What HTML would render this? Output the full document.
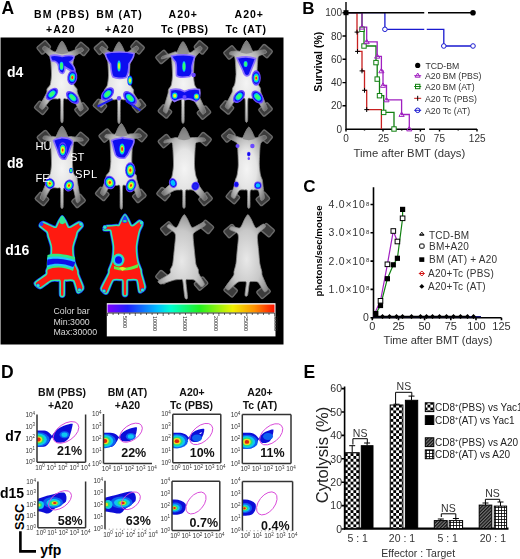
<!DOCTYPE html>
<html><head><meta charset="utf-8">
<style>
html,body{margin:0;padding:0;background:#fff;}
body{width:520px;height:559px;overflow:hidden;}
svg{display:block;font-family:"Liberation Sans",sans-serif;}
.b{font-weight:bold;}
.g{fill:#333;}
</style></head><body>
<svg width="520" height="559" viewBox="0 0 520 559">
<defs>
<pattern id="chk" width="5.7" height="5.7" patternUnits="userSpaceOnUse"><rect width="5.7" height="5.7" fill="#fff"/><rect width="2.85" height="2.85" fill="#000"/><rect x="2.85" y="2.85" width="2.85" height="2.85" fill="#000"/></pattern>
<pattern id="hat" width="2.4" height="2.4" patternUnits="userSpaceOnUse" patternTransform="rotate(45)"><rect width="2.4" height="2.4" fill="#777"/><rect width="1.2" height="2.4" fill="#111"/></pattern>
<pattern id="grd" width="3" height="3" patternUnits="userSpaceOnUse"><rect width="3" height="3" fill="#000"/><rect x="0.8" y="0.8" width="2.2" height="2.2" fill="#fff"/></pattern>
<!--CLIPSD-->
<clipPath id="c1"><rect x="37" y="414.5" width="48.599999999999994" height="47.69999999999999"/></clipPath>
<clipPath id="c2"><rect x="103.5" y="414" width="48.5" height="49.5"/></clipPath>
<clipPath id="c3"><rect x="172.8" y="414.2" width="48.0" height="48.5"/></clipPath>
<clipPath id="c4"><rect x="242.3" y="414.5" width="48.69999999999999" height="49.0"/></clipPath>
<clipPath id="c5"><rect x="37.9" y="481.5" width="47.699999999999996" height="46.200000000000045"/></clipPath>
<clipPath id="c6"><rect x="105" y="480.8" width="48" height="48.400000000000034"/></clipPath>
<clipPath id="c7"><rect x="172" y="481.3" width="47.80000000000001" height="49.30000000000001"/></clipPath>
<clipPath id="c8"><rect x="242.4" y="481.4" width="50.20000000000002" height="49.39999999999998"/></clipPath>
<filter id="soft" x="-5%" y="-5%" width="110%" height="110%"><feGaussianBlur stdDeviation="0.45"/></filter>
<!--/CLIPSD-->
<!--DEFSA-->
<radialGradient id="mbody" cx="50%" cy="52%" r="58%"><stop offset="0" stop-color="#f4f4f4"/><stop offset="0.42" stop-color="#e4e4e4"/><stop offset="0.72" stop-color="#b4b4b4"/><stop offset="1" stop-color="#6a6a6a"/></radialGradient>
<radialGradient id="mgray" cx="50%" cy="55%" r="60%"><stop offset="0" stop-color="#e8e8e8"/><stop offset="0.6" stop-color="#c8c8c8"/><stop offset="1" stop-color="#8a8a8a"/></radialGradient>
<linearGradient id="cbar" x1="0" x2="1" y1="0" y2="0"><stop offset="0" stop-color="#8000ff"/><stop offset="0.12" stop-color="#2020ff"/><stop offset="0.3" stop-color="#00c0ff"/><stop offset="0.38" stop-color="#00ffd0"/><stop offset="0.55" stop-color="#20f020"/><stop offset="0.75" stop-color="#f0f000"/><stop offset="0.88" stop-color="#ff9000"/><stop offset="1" stop-color="#ff1000"/></linearGradient>
<filter id="blur1" x="-10%" y="-10%" width="120%" height="120%"><feGaussianBlur stdDeviation="0.7"/></filter>
<!--/DEFSA-->
</defs>
<rect width="520" height="559" fill="#fff"/>

<!-- ================= PANEL A ================= -->
<g id="A">
<rect x="1" y="37.5" width="282.5" height="307" fill="#000"/>
<rect x="0" y="37.5" width="1" height="307" fill="#888"/>
<!--MICE-->
<g id="mice">
<rect x="38.0" y="43.0" width="11.5" height="9" rx="1.5" transform="rotate(-40 43.7 47.5)" fill="#3c3c3c" stroke="#6a6a6a" stroke-width="1.4"/>
<rect x="76.5" y="44.5" width="11.5" height="9" rx="1.5" transform="rotate(40 82.3 49.0)" fill="#3c3c3c" stroke="#6a6a6a" stroke-width="1.4"/>
<rect x="35.5" y="103.3" width="11.5" height="9" rx="1.5" transform="rotate(40 41.3 107.8)" fill="#3c3c3c" stroke="#6a6a6a" stroke-width="1.4"/>
<rect x="75.8" y="104.9" width="11.5" height="9" rx="1.5" transform="rotate(-40 81.5 109.4)" fill="#3c3c3c" stroke="#6a6a6a" stroke-width="1.4"/>
<path d="M62.0,41.0 C62.7,41.0 64.5,44.3 65.2,45.5 C65.9,46.7 67.4,50.8 68.0,51.5 C68.6,52.2 69.0,51.9 70.5,51.5 C72.0,51.1 79.3,48.2 80.8,47.9 C82.2,47.5 82.6,48.4 82.9,48.8 C83.2,49.2 84.1,50.0 83.1,50.9 C82.1,51.8 75.6,55.3 74.4,56.5 C73.2,57.7 73.4,58.8 73.2,61.0 C73.0,63.2 72.4,72.3 72.5,75.0 C72.6,77.7 73.2,82.9 73.7,84.5 C74.2,86.1 76.6,88.0 77.0,89.0 C77.4,90.0 76.8,90.9 77.5,93.0 C78.2,95.1 82.5,105.4 83.0,107.4 C83.6,109.4 82.5,109.6 82.1,110.0 C81.7,110.4 80.6,111.7 79.5,110.5 C78.5,109.3 74.5,100.8 73.0,99.5 C71.5,98.2 67.6,98.9 66.5,99.0 C65.4,99.1 63.8,97.4 63.4,100.0 C63.0,102.6 63.4,118.5 63.1,121.0 C62.8,123.5 61.2,123.5 60.9,121.0 C60.6,118.5 61.0,102.6 60.6,100.0 C60.2,97.4 58.6,99.1 57.5,99.0 C56.4,98.9 52.7,98.3 51.0,99.5 C49.3,100.7 44.5,107.9 43.3,108.9 C42.1,109.9 41.1,108.8 40.7,108.4 C40.3,108.0 39.1,107.6 39.8,105.8 C40.4,104.0 45.7,95.0 46.5,93.0 C47.3,91.0 46.6,90.0 47.0,89.0 C47.4,88.0 49.8,86.1 50.3,84.5 C50.8,82.9 51.4,77.7 51.5,75.0 C51.6,72.3 51.0,63.2 50.8,61.0 C50.6,58.8 50.5,57.9 49.6,56.5 C48.7,55.1 43.7,50.5 42.9,49.4 C42.2,48.3 42.8,47.7 43.1,47.3 C43.4,46.9 44.0,45.9 45.2,46.4 C46.4,46.9 52.2,50.9 53.5,51.5 C54.8,52.1 55.4,52.2 56.0,51.5 C56.6,50.8 58.1,46.7 58.8,45.5 C59.5,44.3 61.3,41.0 62.0,41.0Z" fill="url(#mbody)" stroke="#8a8a8a" stroke-width="0.8"/>
<path d="M62.0,41.0 C64.0,43.0 67.0,48.0 68.0,53.0 C64.0,54.5 60.0,54.5 56.0,53.0 C57.0,48.0 60.0,43.0 62.0,41.0Z" fill="#6a6a6a" fill-opacity="0.55"/>
<rect x="95.2" y="43.3" width="11.5" height="9" rx="1.5" transform="rotate(-40 101.0 47.8)" fill="#3c3c3c" stroke="#6a6a6a" stroke-width="1.4"/>
<rect x="131.8" y="42.8" width="11.5" height="9" rx="1.5" transform="rotate(40 137.5 47.3)" fill="#3c3c3c" stroke="#6a6a6a" stroke-width="1.4"/>
<rect x="94.2" y="101.3" width="11.5" height="9" rx="1.5" transform="rotate(40 100.0 105.8)" fill="#3c3c3c" stroke="#6a6a6a" stroke-width="1.4"/>
<rect x="133.2" y="101.3" width="11.5" height="9" rx="1.5" transform="rotate(-40 139.0 105.8)" fill="#3c3c3c" stroke="#6a6a6a" stroke-width="1.4"/>
<path d="M119.0,41.8 C119.7,41.8 121.5,45.1 122.2,46.3 C122.9,47.5 124.4,51.6 125.0,52.3 C125.6,53.0 126.2,53.0 127.5,52.3 C128.8,51.6 134.7,46.8 136.0,46.2 C137.2,45.6 137.8,46.7 138.1,47.1 C138.4,47.5 139.0,48.0 138.3,49.2 C137.5,50.4 132.3,55.8 131.4,57.3 C130.5,58.8 130.4,59.6 130.2,61.8 C130.0,64.0 129.4,73.1 129.5,75.8 C129.6,78.5 130.2,83.7 130.7,85.3 C131.2,86.9 133.1,88.8 133.5,89.8 C133.9,90.8 133.2,92.2 134.0,93.8 C134.8,95.4 139.9,102.3 140.5,103.8 C141.2,105.3 140.0,106.0 139.6,106.4 C139.2,106.8 138.2,107.6 137.0,106.9 C135.8,106.2 131.1,101.1 129.5,100.3 C127.9,99.5 124.6,99.7 123.5,99.8 C122.4,99.9 120.8,98.2 120.4,100.8 C120.0,103.4 120.4,119.3 120.1,121.8 C119.8,124.2 118.2,124.2 117.9,121.8 C117.6,119.3 118.0,103.4 117.6,100.8 C117.2,98.2 115.6,99.9 114.5,99.8 C113.4,99.7 110.0,99.5 108.5,100.3 C107.0,101.1 103.0,106.2 102.0,106.9 C100.9,107.6 99.8,106.8 99.4,106.4 C99.0,106.0 97.9,105.3 98.5,103.8 C99.0,102.3 103.3,95.4 104.0,93.8 C104.7,92.2 104.1,90.8 104.5,89.8 C104.9,88.8 106.8,86.9 107.3,85.3 C107.8,83.7 108.4,78.5 108.5,75.8 C108.6,73.1 108.0,64.0 107.8,61.8 C107.6,59.6 107.5,58.7 106.6,57.3 C105.7,55.9 101.0,50.8 100.2,49.7 C99.5,48.6 100.1,48.0 100.4,47.6 C100.7,47.2 101.3,46.1 102.5,46.7 C103.7,47.2 109.3,51.6 110.5,52.3 C111.7,53.0 112.4,53.0 113.0,52.3 C113.6,51.6 115.1,47.5 115.8,46.3 C116.5,45.1 118.3,41.8 119.0,41.8Z" fill="url(#mbody)" stroke="#8a8a8a" stroke-width="0.8"/>
<path d="M119.0,41.8 C121.0,43.8 124.0,48.8 125.0,53.8 C121.0,55.3 117.0,55.3 113.0,53.8 C114.0,48.8 117.0,43.8 119.0,41.8Z" fill="#6a6a6a" fill-opacity="0.55"/>
<rect x="156.8" y="52.5" width="11.5" height="9" rx="1.5" transform="rotate(-40 162.5 57.0)" fill="#3c3c3c" stroke="#6a6a6a" stroke-width="1.4"/>
<rect x="195.2" y="43.0" width="11.5" height="9" rx="1.5" transform="rotate(40 201.0 47.5)" fill="#3c3c3c" stroke="#6a6a6a" stroke-width="1.4"/>
<rect x="159.2" y="107.0" width="11.5" height="9" rx="1.5" transform="rotate(40 165.0 111.5)" fill="#3c3c3c" stroke="#6a6a6a" stroke-width="1.4"/>
<rect x="198.2" y="108.0" width="11.5" height="9" rx="1.5" transform="rotate(-40 204.0 112.5)" fill="#3c3c3c" stroke="#6a6a6a" stroke-width="1.4"/>
<path d="M183.0,41.5 C183.7,41.5 185.5,44.8 186.2,46.0 C186.9,47.2 188.4,51.3 189.0,52.0 C189.6,52.7 190.3,52.7 191.5,52.0 C192.7,51.3 198.3,46.9 199.5,46.4 C200.7,45.8 201.3,46.9 201.6,47.3 C201.9,47.7 202.5,48.3 201.8,49.4 C201.0,50.5 196.3,55.6 195.4,57.0 C194.5,58.4 194.4,59.3 194.2,61.5 C194.0,63.7 193.4,72.8 193.5,75.5 C193.6,78.2 194.2,83.4 194.7,85.0 C195.2,86.6 197.1,88.5 197.5,89.5 C197.9,90.5 197.1,91.0 198.0,93.5 C198.9,96.0 204.8,108.2 205.5,110.5 C206.3,112.8 205.0,112.7 204.6,113.1 C204.2,113.5 203.3,115.1 202.0,113.6 C200.7,112.1 195.2,101.6 193.5,100.0 C191.8,98.4 188.6,99.4 187.5,99.5 C186.4,99.6 184.8,97.9 184.4,100.5 C184.0,103.1 184.4,119.0 184.1,121.5 C183.8,124.0 182.2,124.0 181.9,121.5 C181.6,119.0 182.0,103.1 181.6,100.5 C181.2,97.9 179.6,99.6 178.5,99.5 C177.4,99.4 173.8,98.5 172.5,100.0 C171.2,101.5 167.9,111.2 167.0,112.6 C166.0,114.0 164.8,112.5 164.4,112.1 C164.0,111.7 163.0,111.7 163.5,109.5 C163.9,107.3 167.4,95.8 168.0,93.5 C168.6,91.2 168.1,90.5 168.5,89.5 C168.9,88.5 170.8,86.6 171.3,85.0 C171.8,83.4 172.4,78.2 172.5,75.5 C172.6,72.8 172.0,63.7 171.8,61.5 C171.6,59.3 171.8,57.3 170.6,57.0 C169.4,56.7 162.8,58.9 161.7,58.9 C160.7,58.9 161.6,57.2 161.9,56.8 C162.2,56.4 162.6,56.4 164.0,55.9 C165.5,55.3 173.0,52.5 174.5,52.0 C176.0,51.5 176.4,52.7 177.0,52.0 C177.6,51.3 179.1,47.2 179.8,46.0 C180.5,44.8 182.3,41.5 183.0,41.5Z" fill="url(#mbody)" stroke="#8a8a8a" stroke-width="0.8"/>
<path d="M183.0,41.5 C185.0,43.5 188.0,48.5 189.0,53.5 C185.0,55.0 181.0,55.0 177.0,53.5 C178.0,48.5 181.0,43.5 183.0,41.5Z" fill="#6a6a6a" fill-opacity="0.55"/>
<rect x="224.8" y="48.0" width="11.5" height="9" rx="1.5" transform="rotate(-40 230.5 52.5)" fill="#3c3c3c" stroke="#6a6a6a" stroke-width="1.4"/>
<rect x="259.8" y="46.5" width="11.5" height="9" rx="1.5" transform="rotate(40 265.5 51.0)" fill="#3c3c3c" stroke="#6a6a6a" stroke-width="1.4"/>
<rect x="221.2" y="103.0" width="11.5" height="9" rx="1.5" transform="rotate(40 227.0 107.5)" fill="#3c3c3c" stroke="#6a6a6a" stroke-width="1.4"/>
<rect x="259.8" y="105.0" width="11.5" height="9" rx="1.5" transform="rotate(-40 265.5 109.5)" fill="#3c3c3c" stroke="#6a6a6a" stroke-width="1.4"/>
<path d="M246.5,40.5 C247.2,40.5 249.0,43.8 249.7,45.0 C250.4,46.2 251.9,50.3 252.5,51.0 C253.1,51.7 253.7,51.1 255.0,51.0 C256.3,50.9 262.7,49.9 264.0,49.9 C265.3,49.8 265.8,50.4 266.1,50.8 C266.4,51.2 267.1,52.3 266.3,52.9 C265.4,53.5 259.9,55.1 258.9,56.0 C257.9,56.9 257.9,58.3 257.7,60.5 C257.5,62.7 256.9,71.8 257.0,74.5 C257.1,77.2 257.8,82.4 258.2,84.0 C258.6,85.6 260.2,87.5 260.5,88.5 C260.8,89.5 260.2,90.3 261.0,92.5 C261.8,94.7 266.4,105.5 267.0,107.5 C267.6,109.6 266.5,109.7 266.1,110.1 C265.7,110.5 264.6,111.9 263.5,110.6 C262.4,109.3 258.0,100.4 256.5,99.0 C255.0,97.6 252.0,98.4 251.0,98.5 C250.0,98.6 248.3,96.9 247.9,99.5 C247.5,102.1 247.9,118.0 247.6,120.5 C247.3,123.0 245.7,123.0 245.4,120.5 C245.1,118.0 245.5,102.1 245.1,99.5 C244.7,96.9 243.0,98.6 242.0,98.5 C241.0,98.4 238.0,97.8 236.5,99.0 C235.0,100.2 230.2,107.5 229.0,108.6 C227.8,109.7 226.8,108.5 226.4,108.1 C226.0,107.7 224.8,107.3 225.5,105.5 C226.1,103.7 231.2,94.5 232.0,92.5 C232.8,90.5 232.2,89.5 232.5,88.5 C232.8,87.5 234.4,85.6 234.8,84.0 C235.2,82.4 235.9,77.2 236.0,74.5 C236.1,71.8 235.5,62.7 235.3,60.5 C235.1,58.3 234.7,56.7 234.1,56.0 C233.5,55.3 230.2,54.8 229.7,54.4 C229.2,54.0 229.6,52.7 229.9,52.3 C230.2,51.9 231.1,51.5 232.0,51.4 C233.0,51.2 237.0,51.0 238.0,51.0 C239.0,51.0 239.9,51.7 240.5,51.0 C241.1,50.3 242.6,46.2 243.3,45.0 C244.0,43.8 245.8,40.5 246.5,40.5Z" fill="url(#mbody)" stroke="#8a8a8a" stroke-width="0.8"/>
<path d="M246.5,40.5 C248.5,42.5 251.5,47.5 252.5,52.5 C248.5,54.0 244.5,54.0 240.5,52.5 C241.5,47.5 244.5,42.5 246.5,40.5Z" fill="#6a6a6a" fill-opacity="0.55"/>
<rect x="38.2" y="132.5" width="11.5" height="9" rx="1.5" transform="rotate(-40 44.0 137.0)" fill="#3c3c3c" stroke="#6a6a6a" stroke-width="1.4"/>
<rect x="76.2" y="134.5" width="11.5" height="9" rx="1.5" transform="rotate(40 82.0 139.0)" fill="#3c3c3c" stroke="#6a6a6a" stroke-width="1.4"/>
<rect x="36.2" y="194.5" width="11.5" height="9" rx="1.5" transform="rotate(40 42.0 199.0)" fill="#3c3c3c" stroke="#6a6a6a" stroke-width="1.4"/>
<rect x="72.8" y="196.5" width="11.5" height="9" rx="1.5" transform="rotate(-40 78.5 201.0)" fill="#3c3c3c" stroke="#6a6a6a" stroke-width="1.4"/>
<path d="M62.0,126.0 C62.7,126.0 64.5,129.3 65.2,130.5 C65.9,131.7 67.4,135.8 68.0,136.5 C68.6,137.2 69.0,136.3 70.5,136.5 C72.0,136.7 79.1,137.6 80.5,137.9 C81.9,138.1 82.3,138.4 82.6,138.8 C82.9,139.2 83.7,140.6 82.8,140.9 C81.8,141.2 75.5,140.9 74.4,141.5 C73.3,142.1 73.4,143.4 73.2,146.0 C73.0,148.6 72.4,160.8 72.5,164.0 C72.6,167.2 73.2,171.9 73.7,173.5 C74.2,175.1 76.6,177.0 77.0,178.0 C77.4,179.0 77.1,179.5 77.5,182.0 C77.9,184.5 79.9,196.7 80.0,199.0 C80.2,201.3 79.5,201.2 79.1,201.6 C78.7,202.0 77.2,203.6 76.5,202.1 C75.8,200.6 74.2,190.1 73.0,188.5 C71.8,186.9 67.6,187.9 66.5,188.0 C65.4,188.1 63.8,186.8 63.4,189.0 C63.0,191.2 63.4,204.9 63.1,207.0 C62.8,209.1 61.2,209.1 60.9,207.0 C60.6,204.9 61.0,191.2 60.6,189.0 C60.2,186.8 58.6,188.1 57.5,188.0 C56.4,187.9 52.6,187.1 51.0,188.5 C49.4,189.9 45.1,198.8 44.0,200.1 C42.9,201.4 41.8,200.0 41.4,199.6 C41.0,199.2 39.9,199.1 40.5,197.0 C41.1,195.0 45.7,184.2 46.5,182.0 C47.3,179.8 46.6,179.0 47.0,178.0 C47.4,177.0 49.8,175.1 50.3,173.5 C50.8,171.9 51.4,167.2 51.5,164.0 C51.6,160.8 51.0,148.6 50.8,146.0 C50.6,143.4 50.5,142.3 49.6,141.5 C48.7,140.7 44.0,139.4 43.2,138.9 C42.5,138.4 43.1,137.2 43.4,136.8 C43.7,136.4 44.3,135.9 45.5,135.9 C46.7,135.8 52.3,136.4 53.5,136.5 C54.7,136.6 55.4,137.2 56.0,136.5 C56.6,135.8 58.1,131.7 58.8,130.5 C59.5,129.3 61.3,126.0 62.0,126.0Z" fill="url(#mbody)" stroke="#8a8a8a" stroke-width="0.8"/>
<path d="M62.0,126.0 C64.0,128.0 67.0,133.0 68.0,138.0 C64.0,139.5 60.0,139.5 56.0,138.0 C57.0,133.0 60.0,128.0 62.0,126.0Z" fill="#6a6a6a" fill-opacity="0.55"/>
<rect x="100.0" y="131.0" width="11.5" height="9" rx="1.5" transform="rotate(-40 105.8 135.5)" fill="#3c3c3c" stroke="#6a6a6a" stroke-width="1.4"/>
<rect x="134.6" y="130.5" width="11.5" height="9" rx="1.5" transform="rotate(40 140.3 135.0)" fill="#3c3c3c" stroke="#6a6a6a" stroke-width="1.4"/>
<rect x="96.5" y="189.5" width="11.5" height="9" rx="1.5" transform="rotate(40 102.3 194.0)" fill="#3c3c3c" stroke="#6a6a6a" stroke-width="1.4"/>
<rect x="133.6" y="191.5" width="11.5" height="9" rx="1.5" transform="rotate(-40 139.3 196.0)" fill="#3c3c3c" stroke="#6a6a6a" stroke-width="1.4"/>
<path d="M121.3,123.5 C122.0,123.5 123.8,126.8 124.5,128.0 C125.2,129.2 126.7,133.3 127.3,134.0 C127.9,134.7 128.5,134.0 129.8,134.0 C131.1,134.0 137.5,133.8 138.8,133.9 C140.1,134.0 140.6,134.4 140.9,134.8 C141.2,135.2 141.9,136.4 141.1,136.9 C140.2,137.4 134.7,138.2 133.7,139.0 C132.7,139.8 132.7,140.9 132.5,143.5 C132.3,146.1 131.7,158.3 131.8,161.5 C131.9,164.7 132.5,169.4 133.0,171.0 C133.5,172.6 135.9,174.5 136.3,175.5 C136.7,176.5 136.3,177.3 136.8,179.5 C137.3,181.7 140.5,192.0 140.8,194.0 C141.2,196.0 140.3,196.2 139.9,196.6 C139.5,197.0 138.2,198.3 137.3,197.1 C136.4,195.9 133.6,187.4 132.3,186.0 C131.0,184.6 126.9,185.4 125.8,185.5 C124.7,185.6 123.1,183.9 122.7,186.5 C122.3,189.1 122.7,205.1 122.4,207.5 C122.1,209.9 120.5,209.9 120.2,207.5 C119.9,205.1 120.3,189.1 119.9,186.5 C119.5,183.9 117.9,185.6 116.8,185.5 C115.7,185.4 111.8,184.9 110.3,186.0 C108.8,187.1 105.3,194.1 104.3,195.1 C103.3,196.1 102.1,195.0 101.7,194.6 C101.3,194.2 100.3,193.8 100.8,192.0 C101.2,190.3 105.2,181.4 105.8,179.5 C106.4,177.6 105.9,176.5 106.3,175.5 C106.7,174.5 109.1,172.6 109.6,171.0 C110.1,169.4 110.7,164.7 110.8,161.5 C110.9,158.3 110.3,146.1 110.1,143.5 C109.9,140.9 109.5,139.7 108.9,139.0 C108.3,138.3 105.5,137.8 105.0,137.4 C104.6,137.0 104.9,135.7 105.2,135.3 C105.5,134.9 106.4,134.5 107.3,134.4 C108.2,134.2 111.9,134.0 112.8,134.0 C113.7,134.0 114.7,134.7 115.3,134.0 C115.9,133.3 117.4,129.2 118.1,128.0 C118.8,126.8 120.6,123.5 121.3,123.5Z" fill="url(#mbody)" stroke="#8a8a8a" stroke-width="0.8"/>
<path d="M121.3,123.5 C123.3,125.5 126.3,130.5 127.3,135.5 C123.3,137.0 119.3,137.0 115.3,135.5 C116.3,130.5 119.3,125.5 121.3,123.5Z" fill="#6a6a6a" fill-opacity="0.55"/>
<rect x="159.2" y="136.5" width="11.5" height="9" rx="1.5" transform="rotate(-40 165.0 141.0)" fill="#3c3c3c" stroke="#6a6a6a" stroke-width="1.4"/>
<rect x="198.8" y="134.5" width="11.5" height="9" rx="1.5" transform="rotate(40 204.5 139.0)" fill="#3c3c3c" stroke="#6a6a6a" stroke-width="1.4"/>
<rect x="157.8" y="189.5" width="11.5" height="9" rx="1.5" transform="rotate(40 163.5 194.0)" fill="#3c3c3c" stroke="#6a6a6a" stroke-width="1.4"/>
<rect x="199.8" y="194.5" width="11.5" height="9" rx="1.5" transform="rotate(-40 205.5 199.0)" fill="#3c3c3c" stroke="#6a6a6a" stroke-width="1.4"/>
<path d="M184.0,127.0 C184.7,127.0 186.5,130.3 187.2,131.5 C187.9,132.7 189.4,136.8 190.0,137.5 C190.6,138.2 191.0,137.5 192.5,137.5 C194.0,137.5 201.5,137.7 203.0,137.9 C204.4,138.0 204.8,138.4 205.1,138.8 C205.4,139.2 206.3,140.5 205.3,140.9 C204.2,141.3 197.6,141.8 196.4,142.5 C195.2,143.2 195.4,144.4 195.2,147.0 C195.0,149.6 194.4,161.7 194.5,165.0 C194.6,168.3 195.3,173.2 195.7,175.0 C196.0,176.8 197.2,178.9 197.5,180.0 C197.8,181.1 196.9,182.0 198.0,184.0 C199.1,186.0 206.1,195.2 207.0,197.0 C208.0,198.8 206.5,199.2 206.1,199.6 C205.7,200.0 205.0,201.2 203.5,200.1 C202.1,199.0 195.3,191.7 193.5,190.5 C191.7,189.3 189.4,189.9 188.5,190.0 C187.6,190.1 185.8,189.0 185.4,191.0 C185.0,193.0 185.4,205.1 185.1,207.0 C184.8,208.9 183.2,208.9 182.9,207.0 C182.6,205.1 183.0,193.0 182.6,191.0 C182.2,189.0 180.4,190.1 179.5,190.0 C178.6,189.9 176.1,189.9 174.5,190.5 C172.9,191.1 166.8,194.6 165.5,195.1 C164.1,195.6 163.3,195.0 162.9,194.6 C162.5,194.2 161.1,193.3 162.0,192.0 C162.8,190.8 169.0,185.4 170.0,184.0 C171.0,182.6 170.2,181.1 170.5,180.0 C170.8,178.9 172.0,176.8 172.3,175.0 C172.7,173.2 173.4,168.3 173.5,165.0 C173.6,161.7 173.0,149.6 172.8,147.0 C172.6,144.4 172.6,143.0 171.6,142.5 C170.6,142.0 165.1,143.1 164.2,142.9 C163.4,142.7 164.1,141.2 164.4,140.8 C164.7,140.4 165.2,140.2 166.5,139.9 C167.8,139.5 174.2,137.8 175.5,137.5 C176.8,137.2 177.4,138.2 178.0,137.5 C178.6,136.8 180.1,132.7 180.8,131.5 C181.5,130.3 183.3,127.0 184.0,127.0Z" fill="url(#mbody)" stroke="#8a8a8a" stroke-width="0.8"/>
<path d="M184.0,127.0 C186.0,129.0 189.0,134.0 190.0,139.0 C186.0,140.5 182.0,140.5 178.0,139.0 C179.0,134.0 182.0,129.0 184.0,127.0Z" fill="#6a6a6a" fill-opacity="0.55"/>
<rect x="222.6" y="131.0" width="11.5" height="9" rx="1.5" transform="rotate(-40 228.3 135.5)" fill="#3c3c3c" stroke="#6a6a6a" stroke-width="1.4"/>
<rect x="259.9" y="132.1" width="11.5" height="9" rx="1.5" transform="rotate(40 265.6 136.6)" fill="#3c3c3c" stroke="#6a6a6a" stroke-width="1.4"/>
<rect x="227.1" y="192.5" width="11.5" height="9" rx="1.5" transform="rotate(40 232.8 197.0)" fill="#3c3c3c" stroke="#6a6a6a" stroke-width="1.4"/>
<rect x="257.1" y="194.5" width="11.5" height="9" rx="1.5" transform="rotate(-40 262.8 199.0)" fill="#3c3c3c" stroke="#6a6a6a" stroke-width="1.4"/>
<path d="M248.8,127.0 C249.5,127.0 251.3,130.3 252.0,131.5 C252.7,132.7 254.2,136.8 254.8,137.5 C255.4,138.2 256.2,137.7 257.3,137.5 C258.4,137.3 263.0,135.6 264.1,135.5 C265.1,135.3 265.9,136.0 266.2,136.4 C266.5,136.8 266.9,137.8 266.4,138.5 C265.8,139.2 261.9,141.5 261.2,142.5 C260.5,143.5 260.2,144.4 260.0,147.0 C259.8,149.6 259.2,161.7 259.3,165.0 C259.4,168.3 260.1,173.2 260.5,175.0 C260.9,176.8 262.0,178.9 262.3,180.0 C262.6,181.1 262.6,182.0 262.8,184.0 C263.0,186.0 264.3,195.2 264.3,197.0 C264.4,198.8 263.8,199.2 263.4,199.6 C263.0,200.0 261.4,201.2 260.8,200.1 C260.2,199.0 259.2,191.7 258.3,190.5 C257.4,189.3 254.2,189.9 253.3,190.0 C252.4,190.1 250.6,189.0 250.2,191.0 C249.8,193.0 250.2,205.1 249.9,207.0 C249.6,208.9 248.0,208.9 247.7,207.0 C247.4,205.1 247.8,193.0 247.4,191.0 C247.0,189.0 245.2,190.1 244.3,190.0 C243.4,189.9 240.4,189.6 239.3,190.5 C238.2,191.4 235.6,197.3 234.8,198.1 C234.0,198.9 232.6,198.0 232.2,197.6 C231.8,197.2 231.0,196.6 231.3,195.0 C231.6,193.4 234.3,185.8 234.8,184.0 C235.3,182.2 235.0,181.1 235.3,180.0 C235.6,178.9 236.8,176.8 237.1,175.0 C237.5,173.2 238.2,168.3 238.3,165.0 C238.4,161.7 237.8,149.6 237.6,147.0 C237.4,144.4 237.6,143.6 236.4,142.5 C235.2,141.4 228.6,138.2 227.5,137.4 C226.5,136.6 227.4,135.7 227.7,135.3 C228.0,134.9 228.4,134.1 229.8,134.4 C231.3,134.6 238.8,137.1 240.3,137.5 C241.8,137.9 242.2,138.2 242.8,137.5 C243.4,136.8 244.9,132.7 245.6,131.5 C246.3,130.3 248.1,127.0 248.8,127.0Z" fill="url(#mbody)" stroke="#8a8a8a" stroke-width="0.8"/>
<path d="M248.8,127.0 C250.8,129.0 253.8,134.0 254.8,139.0 C250.8,140.5 246.8,140.5 242.8,139.0 C243.8,134.0 246.8,129.0 248.8,127.0Z" fill="#6a6a6a" fill-opacity="0.55"/>
<rect x="161.6" y="224.0" width="11.5" height="9" rx="1.5" transform="rotate(-40 167.3 228.5)" fill="#3c3c3c" stroke="#6a6a6a" stroke-width="1.4"/>
<rect x="201.1" y="222.4" width="11.5" height="9" rx="1.5" transform="rotate(40 206.8 226.9)" fill="#3c3c3c" stroke="#6a6a6a" stroke-width="1.4"/>
<rect x="156.7" y="272.5" width="11.5" height="9" rx="1.5" transform="rotate(40 162.4 277.0)" fill="#3c3c3c" stroke="#6a6a6a" stroke-width="1.4"/>
<rect x="195.3" y="279.1" width="11.5" height="9" rx="1.5" transform="rotate(-40 201.0 283.6)" fill="#3c3c3c" stroke="#6a6a6a" stroke-width="1.4"/>
<path d="M184.3,214.6 C185.0,214.6 186.8,217.9 187.5,219.1 C188.2,220.3 189.7,224.1 190.3,225.1 C190.9,226.1 191.3,227.9 192.8,227.6 C194.3,227.3 201.4,223.0 202.8,222.5 C204.2,222.0 204.6,223.0 204.9,223.4 C205.2,223.8 206.3,224.4 205.1,225.5 C203.8,226.6 195.7,231.2 194.3,232.6 C192.9,234.0 193.0,234.5 193.1,237.1 C193.2,239.7 194.5,251.4 194.8,254.6 C195.1,257.8 195.6,262.9 196.0,264.6 C196.4,266.4 198.0,268.6 198.3,269.6 C198.6,270.7 198.1,272.0 198.8,273.6 C199.5,275.2 203.7,281.9 204.2,283.3 C204.8,284.8 203.7,285.5 203.3,285.9 C202.9,286.3 201.8,287.1 200.7,286.4 C199.7,285.7 195.7,280.9 194.3,280.1 C192.9,279.3 189.8,279.5 188.8,279.6 C187.8,279.7 186.1,278.5 185.9,280.6 C185.7,282.7 187.6,295.6 187.5,297.6 C187.4,299.6 185.5,299.6 184.9,297.6 C184.3,295.6 183.3,282.7 182.7,280.6 C182.1,278.5 180.8,279.7 179.8,279.6 C178.8,279.5 176.4,279.6 174.3,280.1 C172.2,280.6 163.7,283.5 162.0,283.9 C160.2,284.3 159.8,283.8 159.4,283.4 C159.0,283.0 157.2,282.0 158.5,280.8 C159.7,279.7 168.4,274.9 169.8,273.6 C171.2,272.3 170.0,270.7 170.3,269.6 C170.6,268.6 172.2,266.4 172.6,264.6 C173.0,262.9 173.5,257.8 173.8,254.6 C174.1,251.4 175.4,239.7 175.5,237.1 C175.6,234.5 175.2,233.8 174.3,232.6 C173.4,231.4 168.2,228.1 167.4,227.2 C166.7,226.3 167.3,225.5 167.6,225.1 C167.9,224.7 168.8,223.9 169.7,224.2 C170.7,224.5 174.8,227.5 175.8,227.6 C176.8,227.7 177.7,226.1 178.3,225.1 C178.9,224.1 180.4,220.3 181.1,219.1 C181.8,217.9 183.6,214.6 184.3,214.6Z" fill="url(#mgray)" stroke="#8a8a8a" stroke-width="0.8"/>
<rect x="224.8" y="226.5" width="11.5" height="9" rx="1.5" transform="rotate(-40 230.6 231.0)" fill="#3c3c3c" stroke="#6a6a6a" stroke-width="1.4"/>
<rect x="261.9" y="225.7" width="11.5" height="9" rx="1.5" transform="rotate(40 267.7 230.2)" fill="#3c3c3c" stroke="#6a6a6a" stroke-width="1.4"/>
<rect x="224.9" y="285.8" width="11.5" height="9" rx="1.5" transform="rotate(40 230.6 290.3)" fill="#3c3c3c" stroke="#6a6a6a" stroke-width="1.4"/>
<rect x="257.8" y="287.4" width="11.5" height="9" rx="1.5" transform="rotate(-40 263.5 291.9)" fill="#3c3c3c" stroke="#6a6a6a" stroke-width="1.4"/>
<path d="M247.9,214.6 C248.6,214.6 250.4,217.9 251.1,219.1 C251.8,220.3 253.3,224.0 253.9,225.1 C254.5,226.2 255.4,228.2 256.4,228.1 C257.4,228.0 261.9,224.5 262.9,224.2 C263.9,223.8 264.7,224.7 265.0,225.1 C265.3,225.5 265.9,226.3 265.2,227.2 C264.4,228.1 259.5,231.9 258.6,233.1 C257.7,234.3 257.4,235.6 257.4,237.6 C257.4,239.6 258.3,247.6 258.6,250.6 C258.9,253.6 259.4,261.2 259.8,263.6 C260.2,266.1 261.5,270.2 261.8,271.6 C262.1,273.0 261.6,273.6 262.3,275.6 C263.0,277.6 267.0,286.5 267.5,288.3 C268.0,290.1 267.0,290.5 266.6,290.9 C266.2,291.3 265.0,292.4 264.0,291.4 C263.0,290.4 259.2,283.2 257.8,282.1 C256.4,281.0 253.4,281.5 252.4,281.6 C251.4,281.7 250.1,281.0 249.5,282.6 C248.9,284.2 248.1,293.7 247.6,295.2 C247.1,296.7 245.2,296.7 245.0,295.2 C244.8,293.7 246.5,284.2 246.3,282.6 C246.1,281.0 244.4,281.7 243.4,281.6 C242.4,281.5 239.6,281.2 238.0,282.1 C236.4,283.0 230.6,288.9 229.3,289.7 C228.0,290.5 227.1,289.6 226.7,289.2 C226.3,288.8 225.0,288.2 225.8,286.6 C226.6,285.0 232.5,277.4 233.5,275.6 C234.5,273.8 233.7,273.0 234.0,271.6 C234.3,270.2 235.6,266.1 236.0,263.6 C236.4,261.2 236.9,253.6 237.2,250.6 C237.5,247.6 238.4,239.6 238.4,237.6 C238.4,235.6 238.2,234.0 237.2,233.1 C236.2,232.2 230.7,230.3 229.8,229.6 C229.0,228.9 229.7,227.9 230.0,227.5 C230.3,227.1 231.0,226.5 232.1,226.6 C233.2,226.6 238.3,228.3 239.4,228.1 C240.5,227.9 241.3,226.2 241.9,225.1 C242.5,224.0 244.0,220.3 244.7,219.1 C245.4,217.9 247.2,214.6 247.9,214.6Z" fill="url(#mgray)" stroke="#8a8a8a" stroke-width="0.8"/>
<path d="M62.2,216.4 C62.9,216.4 64.7,219.7 65.4,220.9 C66.1,222.1 67.6,226.2 68.2,226.9 C68.8,227.6 69.4,227.4 70.7,226.9 C72.0,226.4 77.8,222.7 79.1,222.3 C80.4,222.0 81.4,223.2 81.8,223.7 C82.2,224.2 82.8,225.5 82.2,226.5 C81.7,227.5 78.1,230.7 77.4,231.9 C76.7,233.1 76.7,234.6 76.2,236.4 C75.7,238.2 73.2,244.5 73.0,247.4 C72.8,250.3 73.7,258.7 74.2,261.4 C74.7,264.1 77.2,268.9 77.7,270.4 C78.2,271.9 77.6,272.4 78.2,274.4 C78.8,276.4 82.9,285.2 83.2,287.2 C83.6,289.1 82.0,290.4 81.3,291.0 C80.6,291.6 78.3,293.4 77.5,292.2 C76.6,291.0 75.0,282.3 73.7,280.9 C72.4,279.5 67.8,280.3 66.7,280.4 C65.6,280.5 64.6,279.6 64.3,281.4 C64.0,283.1 64.5,293.8 64.0,295.4 C63.5,297.0 60.9,297.0 60.4,295.4 C59.9,293.8 60.4,283.1 60.1,281.4 C59.8,279.6 58.8,280.5 57.7,280.4 C56.6,280.3 52.7,280.0 50.7,280.9 C48.7,281.8 42.5,287.0 40.9,287.7 C39.4,288.4 37.8,287.1 37.1,286.5 C36.4,285.9 34.1,284.1 35.2,282.7 C36.2,281.2 44.9,275.8 46.2,274.4 C47.5,273.0 46.2,271.9 46.7,270.4 C47.2,268.9 49.7,264.1 50.2,261.4 C50.7,258.7 51.6,250.3 51.4,247.4 C51.2,244.5 48.7,238.2 48.2,236.4 C47.7,234.6 47.9,233.1 47.0,231.9 C46.1,230.7 40.9,227.5 40.2,226.5 C39.4,225.5 40.2,224.2 40.6,223.7 C41.0,223.2 41.8,222.0 43.3,222.3 C44.8,222.7 52.2,226.4 53.7,226.9 C55.2,227.4 55.6,227.6 56.2,226.9 C56.8,226.2 58.3,222.1 59.0,220.9 C59.7,219.7 61.5,216.4 62.2,216.4Z" fill="#ff1a10" stroke="#1030f0" stroke-width="3"/>
<path d="M62.2,216.4 C62.9,216.4 64.7,219.7 65.4,220.9 C66.1,222.1 67.6,226.2 68.2,226.9 C68.8,227.6 69.4,227.4 70.7,226.9 C72.0,226.4 77.8,222.7 79.1,222.3 C80.4,222.0 81.4,223.2 81.8,223.7 C82.2,224.2 82.8,225.5 82.2,226.5 C81.7,227.5 78.1,230.7 77.4,231.9 C76.7,233.1 76.7,234.6 76.2,236.4 C75.7,238.2 73.2,244.5 73.0,247.4 C72.8,250.3 73.7,258.7 74.2,261.4 C74.7,264.1 77.2,268.9 77.7,270.4 C78.2,271.9 77.6,272.4 78.2,274.4 C78.8,276.4 82.9,285.2 83.2,287.2 C83.6,289.1 82.0,290.4 81.3,291.0 C80.6,291.6 78.3,293.4 77.5,292.2 C76.6,291.0 75.0,282.3 73.7,280.9 C72.4,279.5 67.8,280.3 66.7,280.4 C65.6,280.5 64.6,279.6 64.3,281.4 C64.0,283.1 64.5,293.8 64.0,295.4 C63.5,297.0 60.9,297.0 60.4,295.4 C59.9,293.8 60.4,283.1 60.1,281.4 C59.8,279.6 58.8,280.5 57.7,280.4 C56.6,280.3 52.7,280.0 50.7,280.9 C48.7,281.8 42.5,287.0 40.9,287.7 C39.4,288.4 37.8,287.1 37.1,286.5 C36.4,285.9 34.1,284.1 35.2,282.7 C36.2,281.2 44.9,275.8 46.2,274.4 C47.5,273.0 46.2,271.9 46.7,270.4 C47.2,268.9 49.7,264.1 50.2,261.4 C50.7,258.7 51.6,250.3 51.4,247.4 C51.2,244.5 48.7,238.2 48.2,236.4 C47.7,234.6 47.9,233.1 47.0,231.9 C46.1,230.7 40.9,227.5 40.2,226.5 C39.4,225.5 40.2,224.2 40.6,223.7 C41.0,223.2 41.8,222.0 43.3,222.3 C44.8,222.7 52.2,226.4 53.7,226.9 C55.2,227.4 55.6,227.6 56.2,226.9 C56.8,226.2 58.3,222.1 59.0,220.9 C59.7,219.7 61.5,216.4 62.2,216.4Z" fill="#ff1a10" stroke="#30e8b0" stroke-width="1.6"/>
<path d="M125.0,214.8 C125.7,214.8 127.5,218.1 128.2,219.3 C128.9,220.5 130.4,224.6 131.0,225.3 C131.6,226.0 132.6,225.8 133.5,225.3 C134.4,224.8 138.2,221.3 139.1,220.9 C140.1,220.6 141.4,221.8 141.8,222.3 C142.2,222.8 142.5,224.2 142.2,225.1 C142.0,226.0 140.1,229.2 139.7,230.3 C139.3,231.4 138.9,232.9 138.5,234.8 C138.1,236.7 136.6,243.8 136.5,246.8 C136.4,249.8 137.2,258.1 137.7,260.8 C138.2,263.5 140.6,268.3 141.0,269.8 C141.4,271.3 141.0,271.8 141.5,273.8 C142.0,275.8 144.8,284.8 145.0,286.8 C145.2,288.7 143.8,290.0 143.1,290.6 C142.4,291.2 140.0,293.0 139.3,291.8 C138.5,290.6 138.1,281.7 137.0,280.3 C135.9,278.9 130.7,279.7 129.5,279.8 C128.3,279.9 127.4,279.1 127.1,280.8 C126.8,282.6 127.3,293.2 126.8,294.8 C126.3,296.4 123.7,296.4 123.2,294.8 C122.7,293.2 123.2,282.6 122.9,280.8 C122.6,279.1 121.7,279.9 120.5,279.8 C119.3,279.7 114.6,278.7 113.0,280.3 C111.4,281.9 108.2,291.7 107.0,293.1 C105.9,294.5 103.9,292.5 103.2,291.9 C102.5,291.3 100.7,290.2 101.3,288.1 C101.9,285.9 107.6,275.9 108.5,273.8 C109.4,271.7 108.6,271.3 109.0,269.8 C109.4,268.3 111.8,263.5 112.3,260.8 C112.8,258.1 113.6,249.8 113.5,246.8 C113.4,243.8 111.9,236.7 111.5,234.8 C111.1,232.9 111.2,230.8 110.3,230.3 C109.4,229.8 104.6,230.5 104.0,230.1 C103.3,229.8 104.0,227.8 104.4,227.3 C104.8,226.8 105.7,226.2 107.1,225.9 C108.5,225.7 115.1,225.4 116.5,225.3 C117.9,225.2 118.4,226.0 119.0,225.3 C119.6,224.6 121.1,220.5 121.8,219.3 C122.5,218.1 124.3,214.8 125.0,214.8Z" fill="#ff1a10" stroke="#1030f0" stroke-width="3"/>
<path d="M125.0,214.8 C125.7,214.8 127.5,218.1 128.2,219.3 C128.9,220.5 130.4,224.6 131.0,225.3 C131.6,226.0 132.6,225.8 133.5,225.3 C134.4,224.8 138.2,221.3 139.1,220.9 C140.1,220.6 141.4,221.8 141.8,222.3 C142.2,222.8 142.5,224.2 142.2,225.1 C142.0,226.0 140.1,229.2 139.7,230.3 C139.3,231.4 138.9,232.9 138.5,234.8 C138.1,236.7 136.6,243.8 136.5,246.8 C136.4,249.8 137.2,258.1 137.7,260.8 C138.2,263.5 140.6,268.3 141.0,269.8 C141.4,271.3 141.0,271.8 141.5,273.8 C142.0,275.8 144.8,284.8 145.0,286.8 C145.2,288.7 143.8,290.0 143.1,290.6 C142.4,291.2 140.0,293.0 139.3,291.8 C138.5,290.6 138.1,281.7 137.0,280.3 C135.9,278.9 130.7,279.7 129.5,279.8 C128.3,279.9 127.4,279.1 127.1,280.8 C126.8,282.6 127.3,293.2 126.8,294.8 C126.3,296.4 123.7,296.4 123.2,294.8 C122.7,293.2 123.2,282.6 122.9,280.8 C122.6,279.1 121.7,279.9 120.5,279.8 C119.3,279.7 114.6,278.7 113.0,280.3 C111.4,281.9 108.2,291.7 107.0,293.1 C105.9,294.5 103.9,292.5 103.2,291.9 C102.5,291.3 100.7,290.2 101.3,288.1 C101.9,285.9 107.6,275.9 108.5,273.8 C109.4,271.7 108.6,271.3 109.0,269.8 C109.4,268.3 111.8,263.5 112.3,260.8 C112.8,258.1 113.6,249.8 113.5,246.8 C113.4,243.8 111.9,236.7 111.5,234.8 C111.1,232.9 111.2,230.8 110.3,230.3 C109.4,229.8 104.6,230.5 104.0,230.1 C103.3,229.8 104.0,227.8 104.4,227.3 C104.8,226.8 105.7,226.2 107.1,225.9 C108.5,225.7 115.1,225.4 116.5,225.3 C117.9,225.2 118.4,226.0 119.0,225.3 C119.6,224.6 121.1,220.5 121.8,219.3 C122.5,218.1 124.3,214.8 125.0,214.8Z" fill="#ff1a10" stroke="#30e8b0" stroke-width="1.6"/>
</g>
<g filter="url(#blur1)">
<path d="M50.5,56 C54,54 58,55.5 62,56.5 C66,55.5 70,54.5 74,56.5 C74,59 72,61 70,62 C72,64 75,67 75,71 C72,72.5 68,69 65,67 C65,70 64.5,73 62.5,73.5 C60,73 58.5,70 58.5,66 C58,63 56,61 52,61 C50.5,59.5 50,58 50.5,56Z" fill="#1010f0" stroke="#8c70ff" stroke-width="1.6"/>
<ellipse cx="61.5" cy="66" rx="2.6" ry="5.5" fill="#1010f0"/>
<ellipse cx="61.5" cy="66" rx="2.0" ry="4.3" fill="#00c0ff"/>
<ellipse cx="61.5" cy="66" rx="1.5" ry="3.2" fill="#30ff70"/>
<ellipse cx="72.3" cy="77.5" rx="5.0" ry="7.5" fill="#6a48ff" transform="rotate(8 72.3 77.5)"/>
<ellipse cx="72.3" cy="77.5" rx="3.9" ry="5.9" fill="#1010f0" transform="rotate(8 72.3 77.5)"/>
<ellipse cx="72.3" cy="77.5" rx="2.9" ry="4.3" fill="#00c0ff" transform="rotate(8 72.3 77.5)"/>
<ellipse cx="72.3" cy="77.5" rx="2.1" ry="3.1" fill="#30ff70" transform="rotate(8 72.3 77.5)"/>
<ellipse cx="72.3" cy="77.5" rx="1.4" ry="2.1" fill="#f0f020" transform="rotate(8 72.3 77.5)"/>
<ellipse cx="72.3" cy="77.5" rx="1.0" ry="1.5" fill="#ff2a10" transform="rotate(8 72.3 77.5)"/>
<ellipse cx="52" cy="94" rx="7.5" ry="4.6" fill="#6a48ff" transform="rotate(-45 52 94)"/>
<ellipse cx="52" cy="94" rx="5.9" ry="3.6" fill="#1010f0" transform="rotate(-45 52 94)"/>
<ellipse cx="52" cy="94" rx="4.3" ry="2.7" fill="#00c0ff" transform="rotate(-45 52 94)"/>
<ellipse cx="52" cy="94" rx="3.1" ry="1.9" fill="#30ff70" transform="rotate(-45 52 94)"/>
<ellipse cx="72.5" cy="97.5" rx="8.0" ry="4.6" fill="#6a48ff" transform="rotate(45 72.5 97.5)"/>
<ellipse cx="72.5" cy="97.5" rx="6.2" ry="3.6" fill="#1010f0" transform="rotate(45 72.5 97.5)"/>
<ellipse cx="72.5" cy="97.5" rx="4.6" ry="2.7" fill="#00c0ff" transform="rotate(45 72.5 97.5)"/>
<ellipse cx="72.5" cy="97.5" rx="3.4" ry="1.9" fill="#30ff70" transform="rotate(45 72.5 97.5)"/>
<path d="M105.5,53.5 C112,51.5 126,51.5 134,53.5 C134,58 131,61 129,64 C129,70 128,75 126,77.5 C122,78.5 116,78.5 113,77 C111,74 111,69 110.5,64 C108,61 105.5,58 105.5,53.5Z" fill="#1010f0" stroke="#8c70ff" stroke-width="1.6"/>
<ellipse cx="119" cy="66" rx="2.2" ry="7.0" fill="#1010f0"/>
<ellipse cx="119" cy="66" rx="1.7" ry="5.5" fill="#00c0ff"/>
<ellipse cx="119" cy="66" rx="1.3" ry="4.1" fill="#30ff70"/>
<ellipse cx="119" cy="66" rx="0.9" ry="2.9" fill="#f0f020"/>
<ellipse cx="130" cy="80.5" rx="2.6" ry="5.0" fill="#1010f0"/>
<ellipse cx="130" cy="80.5" rx="2.0" ry="3.9" fill="#00c0ff"/>
<ellipse cx="130" cy="80.5" rx="1.5" ry="2.9" fill="#30ff70"/>
<ellipse cx="130" cy="80.5" rx="1.1" ry="2.1" fill="#f0f020"/>
<ellipse cx="107.5" cy="94" rx="8.0" ry="5.0" fill="#6a48ff" transform="rotate(-45 107.5 94)"/>
<ellipse cx="107.5" cy="94" rx="6.2" ry="3.9" fill="#1010f0" transform="rotate(-45 107.5 94)"/>
<ellipse cx="107.5" cy="94" rx="4.6" ry="2.9" fill="#00c0ff" transform="rotate(-45 107.5 94)"/>
<ellipse cx="107.5" cy="94" rx="3.4" ry="2.1" fill="#30ff70" transform="rotate(-45 107.5 94)"/>
<ellipse cx="130" cy="98" rx="8.5" ry="5.0" fill="#6a48ff" transform="rotate(45 130 98)"/>
<ellipse cx="130" cy="98" rx="6.6" ry="3.9" fill="#1010f0" transform="rotate(45 130 98)"/>
<ellipse cx="130" cy="98" rx="4.9" ry="2.9" fill="#00c0ff" transform="rotate(45 130 98)"/>
<ellipse cx="130" cy="98" rx="3.6" ry="2.1" fill="#30ff70" transform="rotate(45 130 98)"/>
<ellipse cx="119" cy="98.3" rx="2.2" ry="2.2" fill="#6a48ff"/>
<path d="M126,101 L140.5,110.5 M112.5,99 L97.5,106.5" stroke="#2020f0" stroke-width="2" fill="none"/>
<path d="M171.5,56 C177,54.5 190,54 194.5,56.5 C194,61 191.5,64 192,69 C192.5,72 191.5,75 189.5,76.5 C184,77.5 178,77.5 176.5,75.5 C176,71 177,66 175.5,62 C173.5,60 172,58 171.5,56Z" fill="#1010f0" stroke="#8c70ff" stroke-width="1.6"/>
<ellipse cx="184" cy="66.5" rx="2.2" ry="6.8" fill="#1010f0"/>
<ellipse cx="184" cy="66.5" rx="1.7" ry="5.3" fill="#00c0ff"/>
<ellipse cx="184" cy="66.5" rx="1.3" ry="3.9" fill="#30ff70"/>
<ellipse cx="193.6" cy="75" rx="2.2" ry="2.2" fill="#6a48ff"/>
<path d="M170.5,90 C175,88.5 180,89 184.5,91.5 C189,89 194,88.5 199.5,89.5 C200.5,94 199.5,99 196,101.5 C192,99.5 188.5,97.5 185.5,99.5 C182.5,97.5 178.5,99.5 174.5,101.5 C171,99.5 170,95 170.5,90Z" fill="#1010f0" stroke="#8c70ff" stroke-width="1.6"/>
<ellipse cx="174.8" cy="95.7" rx="3.5" ry="4.0" fill="#1010f0"/>
<ellipse cx="174.8" cy="95.7" rx="2.7" ry="3.1" fill="#00c0ff"/>
<ellipse cx="174.8" cy="95.7" rx="2.0" ry="2.3" fill="#30ff70"/>
<ellipse cx="174.8" cy="95.7" rx="1.5" ry="1.7" fill="#f0f020"/>
<ellipse cx="196.5" cy="96.5" rx="3.5" ry="4.0" fill="#1010f0"/>
<ellipse cx="196.5" cy="96.5" rx="2.7" ry="3.1" fill="#00c0ff"/>
<ellipse cx="196.5" cy="96.5" rx="2.0" ry="2.3" fill="#30ff70"/>
<ellipse cx="196.5" cy="96.5" rx="1.5" ry="1.7" fill="#f0f020"/>
<ellipse cx="184.5" cy="97" rx="2.0" ry="2.0" fill="#6a48ff"/>
<path d="M237,58 C243,56.5 250,56.5 255.5,58.5 C254.5,63 252,67 249.5,74.5 C247.5,77 244.5,76.5 243,71 C241,66 238.5,62.5 237,58Z" fill="#1010f0" stroke="#8c70ff" stroke-width="1.6"/>
<ellipse cx="245.6" cy="64" rx="2.5" ry="4.0" fill="#1010f0"/>
<ellipse cx="245.6" cy="64" rx="2.0" ry="3.1" fill="#00c0ff"/>
<ellipse cx="245.6" cy="64" rx="1.4" ry="2.3" fill="#30ff70"/>
<ellipse cx="256.2" cy="78" rx="4.6" ry="7.8" fill="#6a48ff"/>
<ellipse cx="256.2" cy="78" rx="3.6" ry="6.1" fill="#1010f0"/>
<ellipse cx="256.2" cy="78" rx="2.7" ry="4.5" fill="#00c0ff"/>
<ellipse cx="256.2" cy="78" rx="1.9" ry="3.3" fill="#30ff70"/>
<ellipse cx="256.2" cy="78" rx="1.3" ry="2.2" fill="#f0f020"/>
<ellipse cx="256.2" cy="78" rx="0.9" ry="1.6" fill="#ff2a10"/>
<ellipse cx="239" cy="96.5" rx="7.5" ry="4.8" fill="#6a48ff" transform="rotate(-50 239 96.5)"/>
<ellipse cx="239" cy="96.5" rx="5.9" ry="3.7" fill="#1010f0" transform="rotate(-50 239 96.5)"/>
<ellipse cx="239" cy="96.5" rx="4.3" ry="2.8" fill="#00c0ff" transform="rotate(-50 239 96.5)"/>
<ellipse cx="239" cy="96.5" rx="3.1" ry="2.0" fill="#30ff70" transform="rotate(-50 239 96.5)"/>
<ellipse cx="257.5" cy="97" rx="7.5" ry="5.0" fill="#6a48ff" transform="rotate(50 257.5 97)"/>
<ellipse cx="257.5" cy="97" rx="5.9" ry="3.9" fill="#1010f0" transform="rotate(50 257.5 97)"/>
<ellipse cx="257.5" cy="97" rx="4.3" ry="2.9" fill="#00c0ff" transform="rotate(50 257.5 97)"/>
<ellipse cx="257.5" cy="97" rx="3.1" ry="2.1" fill="#30ff70" transform="rotate(50 257.5 97)"/>
<path d="M53.5,140.5 C56,138 59,139 61.5,137.5 C64,138.5 67,137 70.5,139.5 C73.5,141 73,144 71,146 C70,150 68,155 65.5,159 C62.5,160 60,158 58.5,154 C57,149 55,145 53.5,140.5Z" fill="#1010f0" stroke="#8c70ff" stroke-width="1.6"/>
<ellipse cx="62.7" cy="150" rx="4.2" ry="7.8" fill="#6a48ff"/>
<ellipse cx="62.7" cy="150" rx="3.6" ry="6.6" fill="#1010f0"/>
<ellipse cx="62.7" cy="150" rx="2.9" ry="5.5" fill="#00c0ff"/>
<ellipse cx="62.7" cy="150" rx="2.4" ry="4.4" fill="#30ff70"/>
<ellipse cx="62.7" cy="150" rx="1.8" ry="3.3" fill="#f0f020"/>
<ellipse cx="62.7" cy="150" rx="0.8" ry="1.6" fill="#ff2a10"/>
<ellipse cx="71" cy="170.5" rx="1.8" ry="2.8" fill="#1010f0"/>
<ellipse cx="71" cy="170.5" rx="1.4" ry="2.2" fill="#00c0ff"/>
<ellipse cx="71" cy="170.5" rx="1.0" ry="1.6" fill="#30ff70"/>
<ellipse cx="49.8" cy="183.5" rx="5.0" ry="5.5" fill="#6a48ff" transform="rotate(-20 49.8 183.5)"/>
<ellipse cx="49.8" cy="183.5" rx="4.2" ry="4.7" fill="#1010f0" transform="rotate(-20 49.8 183.5)"/>
<ellipse cx="49.8" cy="183.5" rx="3.5" ry="3.8" fill="#00c0ff" transform="rotate(-20 49.8 183.5)"/>
<ellipse cx="49.8" cy="183.5" rx="2.8" ry="3.1" fill="#30ff70" transform="rotate(-20 49.8 183.5)"/>
<ellipse cx="49.8" cy="183.5" rx="2.1" ry="2.3" fill="#f0f020" transform="rotate(-20 49.8 183.5)"/>
<ellipse cx="49.8" cy="183.5" rx="1.0" ry="1.1" fill="#ff2a10" transform="rotate(-20 49.8 183.5)"/>
<ellipse cx="69" cy="185.5" rx="5.0" ry="6.0" fill="#6a48ff" transform="rotate(20 69 185.5)"/>
<ellipse cx="69" cy="185.5" rx="4.2" ry="5.1" fill="#1010f0" transform="rotate(20 69 185.5)"/>
<ellipse cx="69" cy="185.5" rx="3.5" ry="4.2" fill="#00c0ff" transform="rotate(20 69 185.5)"/>
<ellipse cx="69" cy="185.5" rx="2.8" ry="3.4" fill="#30ff70" transform="rotate(20 69 185.5)"/>
<ellipse cx="69" cy="185.5" rx="2.1" ry="2.5" fill="#f0f020" transform="rotate(20 69 185.5)"/>
<ellipse cx="69" cy="185.5" rx="1.0" ry="1.2" fill="#ff2a10" transform="rotate(20 69 185.5)"/>
<path d="M111.7,140.5 C116,138 120,139 122.5,137.5 C125,139 130,138 134,140 C134.5,144 132,147 130,150 C129,153 127,156 125,158 C121,158.5 117,158 115.5,155 C114,151 113,146 111.7,140.5Z" fill="#1010f0" stroke="#8c70ff" stroke-width="1.6"/>
<ellipse cx="122.1" cy="149" rx="3.5" ry="7.2" fill="#1010f0"/>
<ellipse cx="122.1" cy="149" rx="2.7" ry="5.6" fill="#00c0ff"/>
<ellipse cx="122.1" cy="149" rx="2.0" ry="4.2" fill="#30ff70"/>
<ellipse cx="122.1" cy="149" rx="1.5" ry="3.0" fill="#f0f020"/>
<ellipse cx="122.1" cy="149" rx="1.0" ry="2.0" fill="#ff2a10"/>
<ellipse cx="130.3" cy="170.2" rx="5.2" ry="8.0" fill="#6a48ff"/>
<ellipse cx="130.3" cy="170.2" rx="4.4" ry="6.8" fill="#1010f0"/>
<ellipse cx="130.3" cy="170.2" rx="3.6" ry="5.6" fill="#00c0ff"/>
<ellipse cx="130.3" cy="170.2" rx="2.9" ry="4.5" fill="#30ff70"/>
<ellipse cx="130.3" cy="170.2" rx="2.2" ry="3.4" fill="#f0f020"/>
<ellipse cx="130.3" cy="170.2" rx="1.0" ry="1.6" fill="#ff2a10"/>
<ellipse cx="109.8" cy="182.5" rx="5.8" ry="6.8" fill="#6a48ff" transform="rotate(-20 109.8 182.5)"/>
<ellipse cx="109.8" cy="182.5" rx="4.9" ry="5.8" fill="#1010f0" transform="rotate(-20 109.8 182.5)"/>
<ellipse cx="109.8" cy="182.5" rx="4.1" ry="4.8" fill="#00c0ff" transform="rotate(-20 109.8 182.5)"/>
<ellipse cx="109.8" cy="182.5" rx="3.2" ry="3.8" fill="#30ff70" transform="rotate(-20 109.8 182.5)"/>
<ellipse cx="109.8" cy="182.5" rx="2.4" ry="2.9" fill="#f0f020" transform="rotate(-20 109.8 182.5)"/>
<ellipse cx="109.8" cy="182.5" rx="1.2" ry="1.4" fill="#ff2a10" transform="rotate(-20 109.8 182.5)"/>
<ellipse cx="131" cy="185.5" rx="5.2" ry="7.0" fill="#6a48ff" transform="rotate(20 131 185.5)"/>
<ellipse cx="131" cy="185.5" rx="4.4" ry="6.0" fill="#1010f0" transform="rotate(20 131 185.5)"/>
<ellipse cx="131" cy="185.5" rx="3.6" ry="4.9" fill="#00c0ff" transform="rotate(20 131 185.5)"/>
<ellipse cx="131" cy="185.5" rx="2.9" ry="3.9" fill="#30ff70" transform="rotate(20 131 185.5)"/>
<ellipse cx="131" cy="185.5" rx="2.2" ry="2.9" fill="#f0f020" transform="rotate(20 131 185.5)"/>
<ellipse cx="131" cy="185.5" rx="1.0" ry="1.4" fill="#ff2a10" transform="rotate(20 131 185.5)"/>
<ellipse cx="173" cy="183" rx="4.0" ry="5.0" fill="#6a48ff" transform="rotate(-20 173 183)"/>
<ellipse cx="173" cy="183" rx="3.1" ry="3.9" fill="#1010f0" transform="rotate(-20 173 183)"/>
<ellipse cx="173" cy="183" rx="2.3" ry="2.9" fill="#00c0ff" transform="rotate(-20 173 183)"/>
<ellipse cx="195.4" cy="186.1" rx="4.0" ry="4.5" fill="#6a48ff" transform="rotate(20 195.4 186.1)"/>
<ellipse cx="195.4" cy="186.1" rx="3.1" ry="3.5" fill="#1010f0" transform="rotate(20 195.4 186.1)"/>
<ellipse cx="195.4" cy="186.1" rx="2.3" ry="2.6" fill="#2020f0" transform="rotate(20 195.4 186.1)"/>
<ellipse cx="237.5" cy="146" rx="2.0" ry="2.0" fill="#6a48ff"/>
<ellipse cx="252.4" cy="146" rx="2.2" ry="2.2" fill="#6a48ff"/>
<ellipse cx="248.8" cy="154.1" rx="1.8" ry="2.4" fill="#6a48ff"/>
<ellipse cx="248.8" cy="154.1" rx="1.4" ry="1.9" fill="#1010f0"/>
<ellipse cx="248.8" cy="158.5" rx="1.2" ry="1.5" fill="#6a48ff"/>
<ellipse cx="236.3" cy="184.4" rx="2.5" ry="3.0" fill="#6a48ff"/>
<ellipse cx="236.3" cy="184.4" rx="2.0" ry="2.3" fill="#1010f0"/>
<ellipse cx="257.9" cy="185.4" rx="3.8" ry="3.8" fill="#6a48ff"/>
<ellipse cx="257.9" cy="185.4" rx="3.0" ry="3.0" fill="#1010f0"/>
<ellipse cx="257.9" cy="185.4" rx="2.2" ry="2.2" fill="#00c0ff"/>
<path d="M59.5,223 C59.5,219 61,216.5 62.3,216.5 C63.6,216.5 65,219 65,223 C63,224.5 61.5,224.5 59.5,223Z" fill="#30e890"/>
<ellipse cx="41.5" cy="224" rx="2.0" ry="2.0" fill="#2040ff"/>
<ellipse cx="81" cy="224" rx="2.0" ry="2.0" fill="#2080ff"/>
<ellipse cx="81" cy="224" rx="1.6" ry="1.6" fill="#30e8c0"/>
<ellipse cx="38" cy="285.5" rx="2.0" ry="2.0" fill="#2040ff"/>
<ellipse cx="38" cy="285.5" rx="1.6" ry="1.6" fill="#30e8c0"/>
<ellipse cx="79.5" cy="290" rx="2.0" ry="2.0" fill="#2040ff"/>
<ellipse cx="79.5" cy="290" rx="1.6" ry="1.6" fill="#30e8c0"/>
<path d="M47.5,255 C55,252 68,255 75,257 C75,263 74,268 73,271 C65,267 55,266 47,270 C46.5,264 47,259 47.5,255Z" fill="#30e880"/>
<path d="M47.5,257.5 C55,255 68,257.5 75,260 C75,264 74,267 73,269 C65,265.5 55,264.5 47,267.5 C46.8,264 47,260 47.5,257.5Z" fill="#20c8ff"/>
<path d="M47.5,259.5 C55,257.5 68,259.5 75,262 C74.8,265 74,266 73,267 C65,263.5 55,262.5 47.2,265.5 C47,263 47,261 47.5,259.5Z" fill="#1010e8"/>
<path d="M125,215.2 C126.5,217 128,219 127.5,222 C125.5,223.5 123.5,223.5 122.2,222 C122,219 123.5,217 125,215.2Z" fill="#1a40ff"/>
<path d="M122.8,221 C123.5,219.5 125.5,219.5 127,221 C126,222.5 124,222.8 122.8,221Z" fill="#30e880"/>
<ellipse cx="104.8" cy="227.3" rx="2.2" ry="2.2" fill="#2040ff"/>
<ellipse cx="104.8" cy="227.3" rx="1.7" ry="1.7" fill="#30e8c0"/>
<ellipse cx="141.5" cy="222.7" rx="2.0" ry="2.0" fill="#2080ff"/>
<ellipse cx="141.5" cy="222.7" rx="1.6" ry="1.6" fill="#30e8c0"/>
<ellipse cx="104" cy="291" rx="2.0" ry="2.0" fill="#2040ff"/>
<ellipse cx="104" cy="291" rx="1.6" ry="1.6" fill="#30e8c0"/>
<ellipse cx="142.5" cy="290" rx="2.0" ry="2.0" fill="#2040ff"/>
<ellipse cx="142.5" cy="290" rx="1.6" ry="1.6" fill="#30e8c0"/>
<ellipse cx="118.5" cy="260" rx="6.0" ry="6.5" fill="#30e8a0"/>
<ellipse cx="118.5" cy="260" rx="4.7" ry="5.1" fill="#20c8ff"/>
<ellipse cx="118.5" cy="260" rx="3.5" ry="3.8" fill="#1010e8"/>
<path d="M114,266 C122,269 130,268 138,264 L138,267.5 C130,271 122,271.5 114,269Z" fill="#60f040"/>
<path d="M119,268 C121,266.5 124,266.5 126,268.5 L122.5,271Z" fill="#e8e820"/>
</g>
<g font-size="11.2" fill="#fff">
<text x="35.5" y="150">HU</text><text x="70" y="161">ST</text><text x="75" y="177.8" letter-spacing="0.6">SPL</text><text x="35.5" y="182">FE</text>
</g>
<rect x="106.8" y="303.2" width="168.7" height="33.2" fill="#fff"/>
<rect x="107.5" y="304.5" width="167" height="8" fill="url(#cbar)"/>
<path d="M107.5,313 H274.5" stroke="#000" stroke-width="0.8"/>
<path d="M107.5,313v3M113.1,313v2M118.6,313v2M124.2,313v2M129.8,313v2M135.3,313v3M140.9,313v2M146.5,313v2M152.1,313v2M157.6,313v2M163.2,313v3M168.8,313v2M174.3,313v2M179.9,313v2M185.5,313v2M191.1,313v3M196.6,313v2M202.2,313v2M207.8,313v2M213.3,313v2M218.9,313v3M224.5,313v2M230.0,313v2M235.6,313v2M241.2,313v2M246.8,313v3M252.3,313v2M257.9,313v2M263.5,313v2M269.0,313v2M274.6,313v3" stroke="#000" stroke-width="0.6"/>
<g font-size="5.4" fill="#222">
<text transform="translate(122.9,316) rotate(90)">5000</text>
<text transform="translate(153.1,316) rotate(90)">10000</text>
<text transform="translate(183.3,316) rotate(90)">15000</text>
<text transform="translate(213.5,316) rotate(90)">20000</text>
<text transform="translate(243.7,316) rotate(90)">25000</text>
<text transform="translate(273.9,316) rotate(90)">30000</text>
</g>
<g font-size="8.8" fill="#d8d8d8"><text x="53.5" y="314.4">Color bar</text><text x="53.5" y="324.8">Min:3000</text><text x="53.5" y="334.6">Max:30000</text></g>
<!--/MICE-->
<text x="1.6" y="13.8" class="b" font-size="17.5">A</text>
<g class="b" font-size="10.5" text-anchor="middle" letter-spacing="1">
<text x="62" y="18.1">BM (PBS)</text><text x="60.8" y="32.5">+A20</text>
<text x="119.5" y="18.1">BM (AT)</text><text x="119.8" y="32.5">+A20</text>
<text x="183.3" y="18.1">A20+</text><text x="184.8" y="32.5" letter-spacing="0.6">Tc (PBS)</text>
<text x="249.3" y="18.1">A20+</text><text x="246.3" y="32.5">Tc (AT)</text>
</g>
<g class="b" font-size="14" fill="#fff">
<text x="7" y="76.8">d4</text>
<text x="7" y="167.6">d8</text>
<text x="5.2" y="254.7">d16</text>
</g>
</g>

<!-- ================= PANEL B ================= -->
<g id="B">
<text x="302.3" y="14.1" class="b" font-size="17">B</text>
<text transform="translate(322.3,61.8) rotate(-90)" text-anchor="middle" class="b" font-size="10.5">Survival (%)</text>
<g font-size="10" class="g" text-anchor="end">
<text x="342" y="16.3">100</text><text x="342" y="39.6">80</text><text x="342" y="62.9">60</text>
<text x="342" y="86.2">40</text><text x="342" y="109.4">20</text><text x="342" y="132.6">0</text>
</g>
<g stroke="#000" stroke-width="1.4" fill="none">
<path d="M346,2 V129.2 H425 M429.2,129.2 H477"/>
<path d="M342.5,12.7H346 M342.5,36H346 M342.5,59.3H346 M342.5,82.6H346 M342.5,105.8H346"/>
<path d="M346,129 v2.5 M383,129 v2.5 M420.4,129 v2.5 M439.5,129 v2.5 M477,129 v2.5 M364.5,129v1.5 M401.7,129v1.5 M458.2,129v1.5"/>
</g>
<g font-size="10" class="g" text-anchor="middle">
<text x="346" y="141.5">0</text><text x="383.5" y="141.5">25</text><text x="419.8" y="141.5">50</text>
<text x="439.4" y="141.5">75</text><text x="477.2" y="141.5">125</text>
</g>
<text x="409.4" y="157" font-size="11.3" class="g" text-anchor="middle">Time after BMT (days)</text>
<!-- curves -->
<g fill="none" stroke-width="1.3">
<path stroke="#1a1ad0" d="M346,12.7 H384.9 V29.3 H443.8 V46 H473"/>
<path stroke="#c82020" d="M346,12.7 H357 V32.1 H357.5 V51.4 H362 V70.9 H364.5 V90.3 H366.7 V109.6 H381.4 V129"/>
<path stroke="#108010" d="M346,12.7 H362 V29.3 H364 V46 H376 V62.6 H377.2 V79.1 H379.5 V95.7 H383.7 V112.4 H394 V129"/>
<path stroke="#a020c0" d="M346,12.7 H362 V27.2 H366.7 V41.8 H377.2 V56.3 H381.4 V70.9 H383 V85.4 H386.5 V99.9 H401.6 V114.5 H409.3 V129"/>
<path stroke="#000" stroke-width="1.4" d="M346,12.7 H425 M428,12.7 H473"/>
<path stroke="#fff" stroke-width="2.5" d="M425.5,10 V50"/>
</g>
<!-- markers -->
<rect x="343.5" y="10.2" width="5" height="5" fill="#000"/>
<circle cx="473" cy="12.7" r="2.8" fill="#000"/>
<g fill="#fff" stroke="#1a1ad0" stroke-width="1"><circle cx="384.9" cy="29.3" r="2.3"/><circle cx="443.8" cy="46" r="2.3"/><circle cx="473" cy="46" r="2.3"/></g>
<g fill="#fff" stroke="#108010" stroke-width="1">
<rect x="359.8" y="27.1" width="4.4" height="4.4"/><rect x="361.8" y="43.8" width="4.4" height="4.4"/><rect x="373.8" y="60.4" width="4.4" height="4.4"/><rect x="375" y="76.9" width="4.4" height="4.4"/><rect x="377.3" y="93.5" width="4.4" height="4.4"/><rect x="381.5" y="110.2" width="4.4" height="4.4"/><rect x="391.8" y="126.8" width="4.4" height="4.4"/>
</g>
<g fill="none" stroke="#a020c0" stroke-width="1">
<path d="M362,24.7l2.6,4.4h-5.2z M366.7,39.3l2.6,4.4h-5.2z M377.2,53.8l2.6,4.4h-5.2z M381.4,68.4l2.6,4.4h-5.2z M383,82.9l2.6,4.4h-5.2z M386.5,97.4l2.6,4.4h-5.2z M401.6,112l2.6,4.4h-5.2z M409.3,126.5l2.6,4.4h-5.2z"/>
</g>

<g stroke="#000" stroke-width="1" fill="none">
<path d="M354.6,32.1h4.8M357,29.7v4.8 M355.1,51.4h4.8M357.5,49v4.8 M359.6,70.9h4.8M362,68.5v4.8 M362.1,90.3h4.8M364.5,87.9v4.8 M364.3,109.6h4.8M366.7,107.2v4.8"/>
</g>
<!-- legend -->
<g font-size="8.7" class="g">
<text x="425.5" y="68.6">TCD-BM</text>
<text x="425" y="78.9">A20 BM (PBS)</text>
<text x="425" y="89.7">A20 BM (AT)</text>
<text x="425" y="101.5">A20 Tc (PBS)</text>
<text x="425" y="113.5">A20 Tc (AT)</text>
</g>
<circle cx="417.7" cy="65.4" r="2.6" fill="#000"/>
<path d="M414.2,75.7h7" stroke="#a020c0" stroke-width="1"/><path d="M417.7,73l2.5,4.2h-5z" fill="none" stroke="#a020c0" stroke-width="1"/>
<path d="M414.2,86.5h7" stroke="#108010" stroke-width="1"/><rect x="415.5" y="84.3" width="4.4" height="4.4" fill="none" stroke="#108010" stroke-width="1"/>
<path d="M414.2,98.3h7" stroke="#d01010" stroke-width="1"/><path d="M417.7,95.8v5" stroke="#000" stroke-width="1"/>
<path d="M414.2,110.3h7" stroke="#1a1ad0" stroke-width="1"/><circle cx="417.7" cy="110.3" r="2.3" fill="none" stroke="#1a1ad0" stroke-width="1"/>
</g>

<!-- ================= PANEL C ================= -->
<g id="C">
<text x="303.3" y="191.5" class="b" font-size="17">C</text>
<text transform="translate(322,250.9) rotate(-90)" text-anchor="middle" class="b" font-size="9.7">photons/sec/mouse</text>
<g font-size="10.5" class="g" letter-spacing="0.75">
<text x="328.6" y="208.2">4.0×10</text><text x="328.6" y="236.4">3.0×10</text><text x="328.6" y="264.7">2.0×10</text><text x="328.6" y="293">1.0×10</text><text x="363" y="321.3">0</text>
</g>
<g font-size="6" class="g">
<text x="366" y="205.5">8</text><text x="366" y="233.7">8</text><text x="366" y="262">8</text><text x="366" y="290.3">8</text>
</g>
<g stroke="#000" stroke-width="1.6" fill="none">
<path d="M373.5,187.3 V317.7 H501.5"/>
<path d="M370.5,204.5H373.5 M370.5,232.8H373.5 M370.5,261.1H373.5 M370.5,289.4H373.5 M370.5,317.7H373.5"/>
<path d="M372.3,317.7v2.5 M398.5,317.7v2.5 M424.6,317.7v2.5 M450.8,317.7v2.5 M476,317.7v2.5 M501.5,317.7v2.5"/>
</g>
<g font-size="11" class="g" text-anchor="middle">
<text x="372.3" y="330">0</text><text x="398.5" y="330">25</text><text x="424.6" y="330">50</text>
<text x="450.8" y="330">75</text><text x="476.5" y="330">100</text><text x="501.5" y="330">125</text>
</g>
<text x="438" y="344" font-size="11" class="g" text-anchor="middle">Time after BMT (days)</text>
<!-- data -->
<g fill="none" stroke-width="1.2">
<path stroke="#a020c0" d="M373.5,316 L380.5,300.8 L387.4,264.3 L393.3,231 L397.4,241.5"/>
<path stroke="#108010" d="M375.8,313.6 L380.5,305.5 L387.4,278.7 L393.3,264.8 L397.4,258.3 L402.6,218.3 L402.6,209.4"/>
<path stroke="#1a1a70" d="M373.5,316.6 L481,316.6"/><path stroke="#000" d="M373.5,316.3 L468,316.3"/>
</g>
<g fill="#000">
<rect x="400" y="206.8" width="5.2" height="5.2"/><rect x="394.8" y="255.7" width="5.2" height="5.2"/><rect x="390.7" y="262.2" width="5.2" height="5.2"/><rect x="384.8" y="276.1" width="5.2" height="5.2"/><rect x="377.9" y="302.9" width="5.2" height="5.2"/><rect x="373.2" y="311" width="5.2" height="5.2"/>
</g>
<g fill="#fff" stroke="#000" stroke-width="1">
<rect x="400.3" y="216" width="4.6" height="4.6"/><rect x="391" y="228.7" width="4.6" height="4.6"/><rect x="395.1" y="239.2" width="4.6" height="4.6"/><rect x="385.1" y="262" width="4.6" height="4.6"/><rect x="378.2" y="298.5" width="4.6" height="4.6"/>
</g>
<g fill="#000">
<path d="M380,316.5l2.5,-2.5l2.5,2.5l-2.5,2.5z M387,316.5l2.5,-2.5l2.5,2.5l-2.5,2.5z M394,316.5l2.5,-2.5l2.5,2.5l-2.5,2.5z M400,316.5l2.5,-2.5l2.5,2.5l-2.5,2.5z M409,316.5l2.5,-2.5l2.5,2.5l-2.5,2.5z M418,316.5l2.5,-2.5l2.5,2.5l-2.5,2.5z M424,316.5l2.5,-2.5l2.5,2.5l-2.5,2.5z M430,316.5l2.5,-2.5l2.5,2.5l-2.5,2.5z M437,316.5l2.5,-2.5l2.5,2.5l-2.5,2.5z M444,316.5l2.5,-2.5l2.5,2.5l-2.5,2.5z M451,316.5l2.5,-2.5l2.5,2.5l-2.5,2.5z M458,316.5l2.5,-2.5l2.5,2.5l-2.5,2.5z M465,316.5l2.5,-2.5l2.5,2.5l-2.5,2.5z M471,316.5l2.5,-2.5l2.5,2.5l-2.5,2.5z"/>
</g>
<!-- legend -->
<g font-size="10" class="g" letter-spacing="0.25">
<text x="429" y="238.5">TCD-BM</text>
<text x="429" y="249.6">BM+A20</text>
<text x="429" y="263.1">BM (AT) + A20</text>
<text x="428" y="277">A20+Tc (PBS)</text>
<text x="428" y="289.9">A20+Tc (AT)</text>
</g>
<path d="M419.8,235l2,-2.8l2,2.8z M419.3,235h5" fill="none" stroke="#000" stroke-width="1"/>
<rect x="419.7" y="244" width="4.4" height="4.2" rx="1" fill="none" stroke="#000" stroke-width="1"/>
<rect x="419.3" y="257.3" width="5" height="4.6" fill="#000"/>
<path d="M421.8,271l2.5,2.5l-2.5,2.5l-2.5,-2.5z M419.3,273.5h5" fill="none" stroke="#d01010" stroke-width="1"/>
<path d="M421.8,284l2.5,2.4l-2.5,2.4l-2.5,-2.4z" fill="#000"/>
</g>

<!-- ================= PANEL D ================= -->
<g id="D">
<text x="1" y="377.9" class="b" font-size="17.5">D</text>
<g class="b" font-size="10.5" text-anchor="middle" fill="#111">
<text x="62" y="396">BM (PBS)</text>
<text x="60.6" y="408.7">+A20</text>
<text x="127.5" y="396">BM (AT)</text>
<text x="127.5" y="408.7">+A20</text>
<text x="192" y="396">A20+</text>
<text x="191.6" y="408.7">Tc (PBS)</text>
<text x="260" y="396">A20+</text>
<text x="260" y="408.7">Tc (AT)</text>
</g>
<g class="b" font-size="14"><text x="5.3" y="440.6">d7</text><text x="0" y="497.7">d15</text></g>
<text transform="translate(24.4,516.9) rotate(-90)" text-anchor="middle" class="b" font-size="12.8">SSC</text>
<path d="M20.4,531.3 V551.4 H36" fill="none" stroke="#000" stroke-width="2.6"/>
<text x="40.2" y="555.3" class="b" font-size="14">yfp</text>
<g filter="url(#soft)">
<g clip-path="url(#c1)">
<path d="M37,430.4 L44.0,430.5 C48.6,431.0 50.5,434.0 52.5,436.5 C50.5,439.0 48.6,446.4 44.0,446.8 L37,447 Z" fill="#1010d8"/>
<ellipse cx="38.5" cy="439.5" rx="11.0" ry="7.2" fill="#1060f0"/>
<ellipse cx="38.5" cy="439.5" rx="8.3" ry="6.0" fill="#10c8f0"/>
<ellipse cx="38.5" cy="439.5" rx="5.8" ry="4.5" fill="#20e080"/>
<ellipse cx="38.5" cy="439.5" rx="3.8" ry="3.1" fill="#e8e020"/>
<ellipse cx="38.5" cy="439.5" rx="2.2" ry="1.9" fill="#e02010"/>
<path d="M51.5,436.5 C55,430 60,427 66,425 C70,424 72,423.5 72.8,424 C72,428 71,433 69,438 C66,442.5 60,444 56,442 C54,440.5 53,438.5 51.5,436.5Z" fill="#1010d8"/>
<ellipse cx="64.5" cy="434.7" rx="5.0" ry="3.5" fill="#1060f0"/>
<ellipse cx="64.5" cy="434.7" rx="3.0" ry="2.2" fill="#10c8f0"/>
</g>
<g clip-path="url(#c2)">
<path d="M103.5,432.7 L110.6,432.8 C115.3,433.3 117.2,435.0 119.2,437.5 C117.2,440.0 115.3,446.7 110.6,447.1 L103.5,447.3 Z" fill="#1010d8"/>
<ellipse cx="105" cy="441" rx="11.0" ry="7.2" fill="#1060f0"/>
<ellipse cx="105" cy="441" rx="8.3" ry="6.0" fill="#10c8f0"/>
<ellipse cx="105" cy="441" rx="5.8" ry="4.5" fill="#20e080"/>
<ellipse cx="105" cy="441" rx="3.8" ry="3.1" fill="#e8e020"/>
<ellipse cx="105" cy="441" rx="2.2" ry="1.9" fill="#e02010"/>
<path d="M118.5,437.5 C122,432 127,429 132,428 C134.5,427.5 136,427 137,427.6 C137,431 136,435 134,438.5 C131,441.5 126,442 122,441 C120.5,440 119.5,439 118.5,437.5Z" fill="#1010d8"/>
<ellipse cx="130.8" cy="436.5" rx="5.0" ry="3.5" fill="#1060f0"/>
<ellipse cx="130.8" cy="436.5" rx="3.0" ry="2.2" fill="#10c8f0"/>
</g>
<g clip-path="url(#c3)">
<path d="M172.8,432.7 L180.2,432.8 C185.1,433.3 187.2,435.5 189.2,438 C187.2,440.5 185.1,446.7 180.2,447.1 L172.8,447.3 Z" fill="#1010d8"/>
<ellipse cx="176.9" cy="441.2" rx="11.0" ry="7.2" fill="#1060f0"/>
<ellipse cx="176.9" cy="441.2" rx="8.3" ry="6.0" fill="#10c8f0"/>
<ellipse cx="176.9" cy="441.2" rx="5.8" ry="4.5" fill="#20e080"/>
<ellipse cx="176.9" cy="441.2" rx="3.8" ry="3.1" fill="#e8e020"/>
<ellipse cx="176.9" cy="441.2" rx="2.2" ry="1.9" fill="#e02010"/>
<path d="M188.5,438 C191,433 195,430.5 199,429.5 C201,429 203,428.5 204.3,429 C204.5,432 203,437 200,440.5 C197,442.5 193,442.5 191,441 C190,440 189,439 188.5,438Z" fill="#1010d8"/>
<ellipse cx="197" cy="438" rx="5.0" ry="3.5" fill="#1060f0"/>
<path d="M199,433.5 l3,-1.5 l-1,2z" fill="#fff"/>
</g>
<g clip-path="url(#c4)">
<path d="M242.3,432.7 L249.9,432.8 C255.0,433.3 257.2,436.5 259.2,439 C257.2,441.5 255.0,448.2 249.9,448.6 L242.3,448.8 Z" fill="#1010d8"/>
<ellipse cx="246.9" cy="441.9" rx="11.0" ry="7.2" fill="#1060f0"/>
<ellipse cx="246.9" cy="441.9" rx="8.3" ry="6.0" fill="#10c8f0"/>
<ellipse cx="246.9" cy="441.9" rx="5.8" ry="4.5" fill="#20e080"/>
<ellipse cx="246.9" cy="441.9" rx="3.8" ry="3.1" fill="#e8e020"/>
<ellipse cx="246.9" cy="441.9" rx="2.2" ry="1.9" fill="#e02010"/>
<path d="M258.5,439 C261,434 265,431.5 269,430.5 C271,430 272.5,429.2 273.5,429.8 C273.5,433 272.5,437.5 270,441 C267,443.5 263,443.5 261,442.2 C260,441.5 259,440 258.5,439Z" fill="#1010d8"/>
<ellipse cx="268" cy="436.5" rx="5.0" ry="3.5" fill="#1060f0"/>
</g>
<g clip-path="url(#c5)">
<path d="M37.9,498.8 C44,496.5 50,495 56,493.5 C60,492.5 63,492 64.5,492.8 C66.5,494.5 67,498 66,501.5 C63,505 57,506.5 53,510 C51,513 48,514.5 45,513 C42,512 40,511.5 37.9,511.3Z" fill="#1010d8"/>
<ellipse cx="53" cy="502.5" rx="10" ry="5.5" fill="#1060f0"/><ellipse cx="53.5" cy="502.8" rx="7" ry="3.8" fill="#10c8f0"/><ellipse cx="54" cy="503" rx="4.5" ry="2.6" fill="#20e080"/><ellipse cx="54.6" cy="503" rx="3" ry="1.8" fill="#e8e020"/><ellipse cx="54.8" cy="503" rx="1.8" ry="1.1" fill="#e02010"/>
<ellipse cx="40" cy="505" rx="4" ry="4" fill="#10c8f0"/><ellipse cx="39.5" cy="505" rx="2.5" ry="2.6" fill="#20e080"/><ellipse cx="39" cy="505" rx="1.5" ry="1.6" fill="#e8e020"/>
</g>
<g clip-path="url(#c6)">
<path d="M105,497.7 C112,496 120,494 126,492.3 C129,491.5 131,491 132.5,491.8 C135.5,493.5 136.5,497 135.5,501 C132,505 127,507 124,510 C122,513 120,514 117,513.5 C112,512.5 108,511.5 105,511.5Z" fill="#1010d8"/>
<ellipse cx="121.5" cy="502.5" rx="11" ry="6" fill="#1060f0"/><ellipse cx="122" cy="502.8" rx="8" ry="4.2" fill="#10c8f0"/><ellipse cx="122.5" cy="503" rx="5" ry="2.8" fill="#20e080"/><ellipse cx="122.7" cy="503" rx="3.2" ry="1.9" fill="#e8e020"/><ellipse cx="122.7" cy="503" rx="2" ry="1.2" fill="#e02010"/>
<ellipse cx="108" cy="504.5" rx="4.5" ry="4.5" fill="#10c8f0"/><ellipse cx="107" cy="504.5" rx="3" ry="3" fill="#20e080"/><ellipse cx="106.5" cy="504.5" rx="1.6" ry="1.8" fill="#e8e020"/>
</g>
<g clip-path="url(#c7)">
<path d="M172,499.6 C178,499 183,500.5 185.6,504 C186.5,507 185.5,511 182,513.5 C178,515 175,514.8 172,514.4Z" fill="#1010d8"/>
<ellipse cx="175" cy="507.5" rx="7" ry="5" fill="#1060f0"/><ellipse cx="174.8" cy="507.8" rx="5" ry="3.6" fill="#10c8f0"/><ellipse cx="174.6" cy="508" rx="3.3" ry="2.5" fill="#20e080"/><ellipse cx="174.5" cy="508" rx="2.2" ry="1.7" fill="#e8e020"/><ellipse cx="174.5" cy="508" rx="1.3" ry="1.1" fill="#e02010"/>
</g>
<g clip-path="url(#c8)">
<path d="M242,499.6 C248,499 253,500.5 255.6,504 C256.5,507.5 255.5,512 252,514.5 C248,516 245,515.8 242,515.8Z" fill="#1010d8"/>
<ellipse cx="245" cy="508" rx="7" ry="5" fill="#1060f0"/><ellipse cx="244.8" cy="508.2" rx="5" ry="3.6" fill="#10c8f0"/><ellipse cx="244.6" cy="508.3" rx="3.3" ry="2.5" fill="#20e080"/><ellipse cx="244.5" cy="508.3" rx="2.2" ry="1.7" fill="#e8e020"/><ellipse cx="244.5" cy="508.3" rx="1.3" ry="1.1" fill="#e02010"/>
</g>
</g>
<ellipse cx="66" cy="432.4" rx="14.5" ry="8.5" transform="rotate(-35 66 432.4)" fill="none" stroke="#d848d8" stroke-width="0.9"/>
<ellipse cx="131" cy="432.7" rx="12.8" ry="7.5" transform="rotate(-35 131 432.7)" fill="none" stroke="#d848d8" stroke-width="0.9"/>
<ellipse cx="201.2" cy="434" rx="13.5" ry="8" transform="rotate(-40 201.2 434)" fill="none" stroke="#d848d8" stroke-width="0.9"/>
<ellipse cx="271.2" cy="434.3" rx="13.5" ry="8" transform="rotate(-40 271.2 434.3)" fill="none" stroke="#d848d8" stroke-width="0.9"/>
<ellipse cx="60" cy="500.3" rx="13" ry="7.5" transform="rotate(-35 60 500.3)" fill="none" stroke="#d848d8" stroke-width="0.9"/>
<ellipse cx="130.8" cy="500.8" rx="11" ry="7" transform="rotate(-40 130.8 500.8)" fill="none" stroke="#d848d8" stroke-width="0.9"/>
<ellipse cx="196" cy="503" rx="12.8" ry="7.6" transform="rotate(-50 196 503)" fill="none" stroke="#d848d8" stroke-width="0.9"/>
<ellipse cx="266.8" cy="503.4" rx="13.2" ry="8" transform="rotate(-52 266.8 503.4)" fill="none" stroke="#d848d8" stroke-width="0.9"/>
<path d="M37,414.5V462.2M37,462.2H85.6M85.6,414.5V462.2" fill="none" stroke="#333" stroke-width="1.5"/>
<g font-size="6.4" fill="#333">
<text x="35" y="464.4" text-anchor="end">10<tspan font-size="4.5" dy="-2.2">0</tspan></text>
<text x="35" y="452.5" text-anchor="end">10<tspan font-size="4.5" dy="-2.2">1</tspan></text>
<text x="35" y="440.6" text-anchor="end">10<tspan font-size="4.5" dy="-2.2">2</tspan></text>
<text x="35" y="428.6" text-anchor="end">10<tspan font-size="4.5" dy="-2.2">3</tspan></text>
<text x="35" y="416.7" text-anchor="end">10<tspan font-size="4.5" dy="-2.2">4</tspan></text>
<text x="40.0" y="469.5" text-anchor="middle">10<tspan font-size="4.5" dy="-2.2">0</tspan></text>
<text x="51.4" y="469.5" text-anchor="middle">10<tspan font-size="4.5" dy="-2.2">1</tspan></text>
<text x="62.8" y="469.5" text-anchor="middle">10<tspan font-size="4.5" dy="-2.2">2</tspan></text>
<text x="74.2" y="469.5" text-anchor="middle">10<tspan font-size="4.5" dy="-2.2">3</tspan></text>
<text x="85.6" y="469.5" text-anchor="middle">10<tspan font-size="4.5" dy="-2.2">4</tspan></text>
</g>
<path d="M103.5,414V463.5M103.5,463.5H152" fill="none" stroke="#333" stroke-width="1.5"/>
<g font-size="6.4" fill="#333">
<text x="101.5" y="465.7" text-anchor="end">10<tspan font-size="4.5" dy="-2.2">0</tspan></text>
<text x="101.5" y="453.3" text-anchor="end">10<tspan font-size="4.5" dy="-2.2">1</tspan></text>
<text x="101.5" y="440.9" text-anchor="end">10<tspan font-size="4.5" dy="-2.2">2</tspan></text>
<text x="101.5" y="428.6" text-anchor="end">10<tspan font-size="4.5" dy="-2.2">3</tspan></text>
<text x="101.5" y="416.2" text-anchor="end">10<tspan font-size="4.5" dy="-2.2">4</tspan></text>
<text x="106.5" y="470.8" text-anchor="middle">10<tspan font-size="4.5" dy="-2.2">0</tspan></text>
<text x="117.9" y="470.8" text-anchor="middle">10<tspan font-size="4.5" dy="-2.2">1</tspan></text>
<text x="129.2" y="470.8" text-anchor="middle">10<tspan font-size="4.5" dy="-2.2">2</tspan></text>
<text x="140.6" y="470.8" text-anchor="middle">10<tspan font-size="4.5" dy="-2.2">3</tspan></text>
<text x="152.0" y="470.8" text-anchor="middle">10<tspan font-size="4.5" dy="-2.2">4</tspan></text>
</g>
<path d="M172.8,414.2V462.7M172.8,462.7H220.8M220.8,414.2V462.7M172.8,414.2H220.8" fill="none" stroke="#333" stroke-width="1.5"/>
<g font-size="6.4" fill="#333">
<text x="170.8" y="464.9" text-anchor="end">10<tspan font-size="4.5" dy="-2.2">0</tspan></text>
<text x="170.8" y="452.8" text-anchor="end">10<tspan font-size="4.5" dy="-2.2">1</tspan></text>
<text x="170.8" y="440.6" text-anchor="end">10<tspan font-size="4.5" dy="-2.2">2</tspan></text>
<text x="170.8" y="428.5" text-anchor="end">10<tspan font-size="4.5" dy="-2.2">3</tspan></text>
<text x="170.8" y="416.4" text-anchor="end">10<tspan font-size="4.5" dy="-2.2">4</tspan></text>
<text x="175.8" y="470.0" text-anchor="middle">10<tspan font-size="4.5" dy="-2.2">0</tspan></text>
<text x="187.1" y="470.0" text-anchor="middle">10<tspan font-size="4.5" dy="-2.2">1</tspan></text>
<text x="198.3" y="470.0" text-anchor="middle">10<tspan font-size="4.5" dy="-2.2">2</tspan></text>
<text x="209.6" y="470.0" text-anchor="middle">10<tspan font-size="4.5" dy="-2.2">3</tspan></text>
<text x="220.8" y="470.0" text-anchor="middle">10<tspan font-size="4.5" dy="-2.2">4</tspan></text>
</g>
<path d="M242.3,414.5V463.5M242.3,463.5H291M291,414.5V463.5M242.3,414.5H291" fill="none" stroke="#333" stroke-width="1.5"/>
<g font-size="6.4" fill="#333">
<text x="240.3" y="465.7" text-anchor="end">10<tspan font-size="4.5" dy="-2.2">0</tspan></text>
<text x="240.3" y="453.4" text-anchor="end">10<tspan font-size="4.5" dy="-2.2">1</tspan></text>
<text x="240.3" y="441.2" text-anchor="end">10<tspan font-size="4.5" dy="-2.2">2</tspan></text>
<text x="240.3" y="428.9" text-anchor="end">10<tspan font-size="4.5" dy="-2.2">3</tspan></text>
<text x="240.3" y="416.7" text-anchor="end">10<tspan font-size="4.5" dy="-2.2">4</tspan></text>
<text x="245.3" y="470.8" text-anchor="middle">10<tspan font-size="4.5" dy="-2.2">0</tspan></text>
<text x="256.7" y="470.8" text-anchor="middle">10<tspan font-size="4.5" dy="-2.2">1</tspan></text>
<text x="268.1" y="470.8" text-anchor="middle">10<tspan font-size="4.5" dy="-2.2">2</tspan></text>
<text x="279.6" y="470.8" text-anchor="middle">10<tspan font-size="4.5" dy="-2.2">3</tspan></text>
<text x="291.0" y="470.8" text-anchor="middle">10<tspan font-size="4.5" dy="-2.2">4</tspan></text>
</g>
<path d="M37.9,481.5V527.7M37.9,527.7H85.6M85.6,481.5V527.7" fill="none" stroke="#333" stroke-width="1.5"/>
<g font-size="6.4" fill="#333">
<text x="35.9" y="529.9" text-anchor="end">10<tspan font-size="4.5" dy="-2.2">0</tspan></text>
<text x="35.9" y="518.4" text-anchor="end">10<tspan font-size="4.5" dy="-2.2">1</tspan></text>
<text x="35.9" y="506.8" text-anchor="end">10<tspan font-size="4.5" dy="-2.2">2</tspan></text>
<text x="35.9" y="495.2" text-anchor="end">10<tspan font-size="4.5" dy="-2.2">3</tspan></text>
<text x="35.9" y="483.7" text-anchor="end">10<tspan font-size="4.5" dy="-2.2">4</tspan></text>
<text x="40.9" y="535.0" text-anchor="middle">10<tspan font-size="4.5" dy="-2.2">0</tspan></text>
<text x="52.1" y="535.0" text-anchor="middle">10<tspan font-size="4.5" dy="-2.2">1</tspan></text>
<text x="63.2" y="535.0" text-anchor="middle">10<tspan font-size="4.5" dy="-2.2">2</tspan></text>
<text x="74.4" y="535.0" text-anchor="middle">10<tspan font-size="4.5" dy="-2.2">3</tspan></text>
<text x="85.6" y="535.0" text-anchor="middle">10<tspan font-size="4.5" dy="-2.2">4</tspan></text>
</g>
<path d="M105,480.8V529.2" fill="none" stroke="#333" stroke-width="1.5"/>
<g font-size="6.4" fill="#333">
<text x="103" y="531.4" text-anchor="end">10<tspan font-size="4.5" dy="-2.2">0</tspan></text>
<text x="103" y="519.3" text-anchor="end">10<tspan font-size="4.5" dy="-2.2">1</tspan></text>
<text x="103" y="507.2" text-anchor="end">10<tspan font-size="4.5" dy="-2.2">2</tspan></text>
<text x="103" y="495.1" text-anchor="end">10<tspan font-size="4.5" dy="-2.2">3</tspan></text>
<text x="103" y="483.0" text-anchor="end">10<tspan font-size="4.5" dy="-2.2">4</tspan></text>
<text x="108.0" y="536.5" text-anchor="middle">10<tspan font-size="4.5" dy="-2.2">0</tspan></text>
<text x="119.2" y="536.5" text-anchor="middle">10<tspan font-size="4.5" dy="-2.2">1</tspan></text>
<text x="130.5" y="536.5" text-anchor="middle">10<tspan font-size="4.5" dy="-2.2">2</tspan></text>
<text x="141.8" y="536.5" text-anchor="middle">10<tspan font-size="4.5" dy="-2.2">3</tspan></text>
<text x="153.0" y="536.5" text-anchor="middle">10<tspan font-size="4.5" dy="-2.2">4</tspan></text>
</g>
<path d="M105,529.2H153" stroke="#888" stroke-width="0.8" stroke-dasharray="1.2 2.5"/>
<path d="M172,481.3V530.6M172,530.6H219.8M219.8,481.3V530.6M172,481.3H219.8" fill="none" stroke="#333" stroke-width="1.5"/>
<g font-size="6.4" fill="#333">
<text x="170" y="532.8" text-anchor="end">10<tspan font-size="4.5" dy="-2.2">0</tspan></text>
<text x="170" y="520.5" text-anchor="end">10<tspan font-size="4.5" dy="-2.2">1</tspan></text>
<text x="170" y="508.2" text-anchor="end">10<tspan font-size="4.5" dy="-2.2">2</tspan></text>
<text x="170" y="495.8" text-anchor="end">10<tspan font-size="4.5" dy="-2.2">3</tspan></text>
<text x="170" y="483.5" text-anchor="end">10<tspan font-size="4.5" dy="-2.2">4</tspan></text>
<text x="175.0" y="537.9" text-anchor="middle">10<tspan font-size="4.5" dy="-2.2">0</tspan></text>
<text x="186.2" y="537.9" text-anchor="middle">10<tspan font-size="4.5" dy="-2.2">1</tspan></text>
<text x="197.4" y="537.9" text-anchor="middle">10<tspan font-size="4.5" dy="-2.2">2</tspan></text>
<text x="208.6" y="537.9" text-anchor="middle">10<tspan font-size="4.5" dy="-2.2">3</tspan></text>
<text x="219.8" y="537.9" text-anchor="middle">10<tspan font-size="4.5" dy="-2.2">4</tspan></text>
</g>
<path d="M242.4,481.4V530.8M292.6,481.4V530.8M242.4,481.4H292.6" fill="none" stroke="#333" stroke-width="1.5"/>
<g font-size="6.4" fill="#333">
<text x="240.4" y="533.0" text-anchor="end">10<tspan font-size="4.5" dy="-2.2">0</tspan></text>
<text x="240.4" y="520.6" text-anchor="end">10<tspan font-size="4.5" dy="-2.2">1</tspan></text>
<text x="240.4" y="508.3" text-anchor="end">10<tspan font-size="4.5" dy="-2.2">2</tspan></text>
<text x="240.4" y="495.9" text-anchor="end">10<tspan font-size="4.5" dy="-2.2">3</tspan></text>
<text x="240.4" y="483.6" text-anchor="end">10<tspan font-size="4.5" dy="-2.2">4</tspan></text>
<text x="245.4" y="538.1" text-anchor="middle">10<tspan font-size="4.5" dy="-2.2">0</tspan></text>
<text x="257.2" y="538.1" text-anchor="middle">10<tspan font-size="4.5" dy="-2.2">1</tspan></text>
<text x="269.0" y="538.1" text-anchor="middle">10<tspan font-size="4.5" dy="-2.2">2</tspan></text>
<text x="280.8" y="538.1" text-anchor="middle">10<tspan font-size="4.5" dy="-2.2">3</tspan></text>
<text x="292.6" y="538.1" text-anchor="middle">10<tspan font-size="4.5" dy="-2.2">4</tspan></text>
</g>
<path d="M242.4,530.8H292.6" stroke="#888" stroke-width="0.8" stroke-dasharray="1.2 2.5"/>
<text x="57" y="454.6" class="b" font-size="12.5" fill="#111">21%</text>
<text x="121.2" y="456.5" class="b" font-size="12.5" fill="#111">22%</text>
<text x="189.7" y="456.5" class="b" font-size="12.5" fill="#111">10%</text>
<text x="260.3" y="457.3" class="b" font-size="12.5" fill="#111">11%</text>
<text x="57.7" y="524.8" class="b" font-size="12.5" fill="#111">58%</text>
<text x="125.8" y="524.6" class="b" font-size="12.5" fill="#111">63%</text>
<text x="189.6" y="526.5" class="b" font-size="12.5" fill="#111">0.7%</text>
<text x="261" y="529.8" class="b" font-size="12.5" fill="#111">0.4%</text>
</g>

<!-- ================= PANEL E ================= -->
<g id="E">
<text x="303.4" y="377.7" class="b" font-size="17.5">E</text>
<text transform="translate(328,455) rotate(-90)" text-anchor="middle" font-size="16.5" fill="#222">Cytolysis (%)</text>
<g font-size="10.5" class="g" text-anchor="end">
<text x="342" y="532.8">0</text>
<text x="342" y="509.4">10</text>
<text x="342" y="486.0">20</text>
<text x="342" y="462.6">30</text>
<text x="342" y="439.2">40</text>
<text x="342" y="415.8">50</text>
<text x="342" y="392.4">60</text>
</g>
<path d="M344.6,386.5 V529 M341.5,529.0H345 M341.5,505.6H345 M341.5,482.2H345 M341.5,458.8H345 M341.5,435.4H345 M341.5,412.0H345 M341.5,388.6H345" stroke="#000" stroke-width="1.6" fill="none"/>
<path d="M344,528.6 H508.5" stroke="#000" stroke-width="2.4"/>
<path d="M352.2,452.7V445.7M349.2,445.7h6" stroke="#000" stroke-width="1"/>
<rect x="345.2" y="452.7" width="14.0" height="75.9" fill="url(#chk)" stroke="#000" stroke-width="1"/>
<path d="M367.1,445.7V443.0M364.1,443.0h6" stroke="#000" stroke-width="1"/>
<rect x="361.3" y="445.7" width="11.7" height="82.9" fill="#000" stroke="#000" stroke-width="1"/>
<path d="M396.5,405.0V404.2M393.5,404.2h6" stroke="#000" stroke-width="1"/>
<rect x="390.2" y="405.0" width="12.7" height="123.6" fill="url(#chk)" stroke="#000" stroke-width="1"/>
<path d="M411.5,400.3V396.1M408.5,396.1h6" stroke="#000" stroke-width="1"/>
<rect x="405.4" y="400.3" width="12.3" height="128.3" fill="#000" stroke="#000" stroke-width="1"/>
<path d="M440.8,520.6V519.0M437.8,519.0h6" stroke="#000" stroke-width="1"/>
<rect x="434.3" y="520.6" width="12.9" height="8.0" fill="url(#hat)" stroke="#000" stroke-width="1"/>
<path d="M455.9,520.6V518.5M452.9,518.5h6" stroke="#000" stroke-width="1"/>
<rect x="449.2" y="520.6" width="13.4" height="8.0" fill="url(#grd)" stroke="#000" stroke-width="1"/>
<path d="M485.5,505.1V503.0M482.5,503.0h6" stroke="#000" stroke-width="1"/>
<rect x="479.2" y="505.1" width="12.6" height="23.5" fill="url(#hat)" stroke="#000" stroke-width="1"/>
<path d="M500.5,506.1V502.0M497.5,502.0h6" stroke="#000" stroke-width="1"/>
<rect x="494.3" y="506.1" width="12.3" height="22.5" fill="url(#grd)" stroke="#000" stroke-width="1"/>
<path d="M352.9,444.5V438.7H367.3V443" fill="none" stroke="#000" stroke-width="1"/>
<path d="M395.6,404V392.3H411.8V396.1" fill="none" stroke="#000" stroke-width="1"/>
<path d="M441.3,517V513.8H455.8V518.5" fill="none" stroke="#000" stroke-width="1"/>
<path d="M485.4,503V499.3H499.7V502" fill="none" stroke="#000" stroke-width="1"/>
<g font-size="10.5" class="g" text-anchor="middle">
<text x="360.1" y="436.6">NS</text>
<text x="403.9" y="390">NS</text>
<text x="448.4" y="511.8">NS</text>
<text x="492.5" y="497.4">NS</text>
</g>
<g font-size="10.5" class="g" text-anchor="middle">
<text x="357.7" y="541.7">5 : 1</text>
<text x="402" y="541.7">20 : 1</text>
<text x="447.6" y="541.7">5 : 1</text>
<text x="492.9" y="541.7">20 : 1</text>
<text x="418.2" y="557">Effector : Target</text>
</g>
<g font-size="10" fill="#222">
<rect x="425.3" y="402.8" width="8.5" height="8.8" fill="url(#chk)" stroke="#000" stroke-width="1"/>
<text x="435" y="411.3">CD8<tspan font-size="6" dy="-4">+</tspan><tspan dy="4">(PBS) vs Yac1</tspan></text>
<rect x="425.3" y="415.7" width="8.5" height="8.8" fill="#000" stroke="#000" stroke-width="1"/>
<text x="435" y="424.2">CD8<tspan font-size="6" dy="-4">+</tspan><tspan dy="4">(AT) vs Yac1</tspan></text>
<rect x="425.3" y="437.8" width="8.5" height="8.8" fill="url(#hat)" stroke="#000" stroke-width="1"/>
<text x="435" y="446.3">CD8<tspan font-size="6" dy="-4">+</tspan><tspan dy="4">(PBS) vs A20</tspan></text>
<rect x="425.3" y="449.9" width="8.5" height="8.8" fill="url(#grd)" stroke="#000" stroke-width="1"/>
<text x="435" y="458.4">CD8<tspan font-size="6" dy="-4">+</tspan><tspan dy="4">(AT) vs A20</tspan></text>
</g>
</g>

</svg>
</body></html>
